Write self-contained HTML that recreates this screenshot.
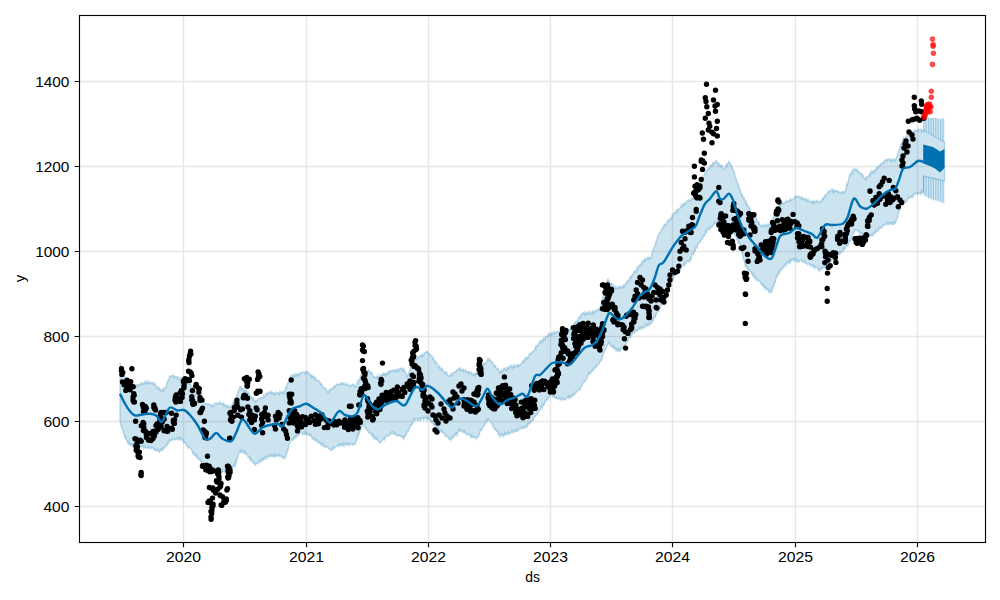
<!DOCTYPE html><html><head><meta charset="utf-8"><style>html,body{margin:0;padding:0;background:#fff;width:1000px;height:600px;overflow:hidden}svg{display:block}text{font-family:"Liberation Sans",sans-serif;fill:#000}</style></head><body><svg width="1000" height="600" viewBox="0 0 1000 600"><rect x="0" y="0" width="1000" height="600" fill="#fff"/><defs><clipPath id="ax"><rect x="79.5" y="15.5" width="906.0" height="527.0"/></clipPath></defs><path d="M120.0,363.7 120.5,364.5 121.0,367.3 121.5,366.8 122.0,369.5 122.5,370.3 123.0,370.7 123.5,373.7 124.0,373.9 124.5,376.8 125.0,377.4 125.5,379.1 126.0,381.8 126.5,383.4 127.0,381.6 127.5,382.3 128.0,383.9 128.5,385.2 129.0,384.5 129.5,384.3 130.0,386.4 130.5,383.8 131.0,386.3 131.5,384.8 132.0,384.5 132.5,384.5 133.0,385.2 133.5,386.9 134.0,385.1 134.5,386.4 135.0,386.8 135.5,386.1 136.0,386.7 136.5,385.0 137.0,384.8 137.5,384.9 138.0,386.1 138.5,385.1 139.0,384.5 139.5,385.1 140.0,384.4 140.5,383.7 141.0,384.9 141.5,384.4 142.0,382.7 142.5,383.5 143.0,383.1 143.5,384.1 144.0,383.6 144.5,382.3 145.0,384.3 145.5,381.7 146.0,382.6 146.5,383.6 147.0,381.7 147.5,382.7 148.0,381.3 148.5,383.2 149.0,383.4 149.5,382.8 150.0,383.7 150.5,382.0 151.0,383.1 151.5,382.8 152.0,382.7 152.5,382.3 153.0,383.6 153.5,384.5 154.0,383.6 154.5,384.7 155.0,383.5 155.5,385.9 156.0,386.3 156.5,387.9 157.0,387.9 157.5,386.8 158.0,387.7 158.5,389.1 159.0,387.7 159.5,389.5 160.0,389.2 160.5,389.6 161.0,390.0 161.5,392.0 162.0,389.7 162.5,389.5 163.0,389.5 163.5,390.5 164.0,387.7 164.5,388.3 165.0,388.1 165.5,387.9 166.0,386.5 166.5,385.4 167.0,382.5 167.5,381.7 168.0,380.3 168.5,380.6 169.0,379.6 169.5,376.0 170.0,375.8 170.5,375.8 171.0,375.8 171.5,376.4 172.0,376.7 172.5,375.6 173.0,374.8 173.5,375.9 174.0,375.7 174.5,376.2 175.0,377.6 175.5,377.0 176.0,376.7 176.5,377.2 177.0,377.6 177.5,375.9 178.0,378.7 178.5,378.6 179.0,379.1 179.5,379.0 180.0,378.0 180.5,378.3 181.0,377.6 181.5,379.4 182.0,378.0 182.5,378.3 183.0,379.0 183.5,379.1 184.0,379.9 184.5,379.4 185.0,379.5 185.5,380.4 186.0,380.7 186.5,381.9 187.0,381.3 187.5,384.3 188.0,383.9 188.5,383.0 189.0,383.7 189.5,384.4 190.0,384.9 190.5,384.6 191.0,387.2 191.5,388.1 192.0,387.0 192.5,387.5 193.0,386.9 193.5,387.6 194.0,388.9 194.5,389.3 195.0,391.6 195.5,390.2 196.0,390.4 196.5,393.9 197.0,393.2 197.5,392.7 198.0,394.5 198.5,393.6 199.0,395.7 199.5,397.7 200.0,398.0 200.5,398.1 201.0,397.4 201.5,398.4 202.0,398.4 202.5,400.8 203.0,400.5 203.5,401.6 204.0,400.7 204.5,400.8 205.0,402.9 205.5,403.9 206.0,403.9 206.5,404.1 207.0,404.6 207.5,404.7 208.0,403.6 208.5,404.9 209.0,404.8 209.5,404.2 210.0,404.6 210.5,405.2 211.0,404.9 211.5,406.1 212.0,406.7 212.5,405.0 213.0,406.3 213.5,406.2 214.0,406.0 214.5,404.0 215.0,403.4 215.5,403.3 216.0,403.0 216.5,402.8 217.0,403.9 217.5,404.6 218.0,404.2 218.5,403.0 219.0,403.3 219.5,403.6 220.0,401.3 220.5,403.2 221.0,404.2 221.5,404.1 222.0,404.3 222.5,403.7 223.0,403.0 223.5,405.1 224.0,404.0 224.5,405.7 225.0,406.4 225.5,404.9 226.0,405.2 226.5,407.1 227.0,406.7 227.5,405.3 228.0,405.4 228.5,405.7 229.0,408.2 229.5,408.2 230.0,406.4 230.5,407.7 231.0,407.4 231.5,405.7 232.0,404.1 232.5,403.9 233.0,401.9 233.5,400.8 234.0,402.9 234.5,401.2 235.0,400.1 235.5,400.1 236.0,397.3 236.5,397.4 237.0,396.0 237.5,392.9 238.0,391.8 238.5,390.6 239.0,389.2 239.5,389.0 240.0,386.8 240.5,387.5 241.0,386.9 241.5,389.5 242.0,388.1 242.5,388.6 243.0,389.3 243.5,390.5 244.0,389.3 244.5,391.0 245.0,390.0 245.5,390.6 246.0,391.2 246.5,390.2 247.0,392.0 247.5,391.8 248.0,391.8 248.5,394.7 249.0,393.4 249.5,394.9 250.0,396.2 250.5,396.2 251.0,396.1 251.5,397.2 252.0,397.9 252.5,399.1 253.0,397.6 253.5,399.5 254.0,399.1 254.5,399.8 255.0,401.8 255.5,400.7 256.0,400.6 256.5,400.9 257.0,401.0 257.5,399.3 258.0,399.5 258.5,398.9 259.0,398.6 259.5,398.9 260.0,397.9 260.5,397.8 261.0,397.4 261.5,398.5 262.0,397.5 262.5,397.8 263.0,397.7 263.5,395.4 264.0,396.0 264.5,396.9 265.0,396.3 265.5,393.9 266.0,393.6 266.5,394.3 267.0,392.9 267.5,393.1 268.0,392.3 268.5,393.8 269.0,393.9 269.5,394.0 270.0,391.5 270.5,393.2 271.0,393.1 271.5,391.6 272.0,393.9 272.5,394.2 273.0,392.0 273.5,394.3 274.0,392.7 274.5,393.0 275.0,394.6 275.5,394.2 276.0,392.2 276.5,393.1 277.0,393.4 277.5,393.0 278.0,392.6 278.5,393.0 279.0,394.3 279.5,392.2 280.0,393.9 280.5,393.3 281.0,391.8 281.5,392.4 282.0,393.0 282.5,392.4 283.0,390.8 283.5,393.3 284.0,392.4 284.5,392.7 285.0,389.8 285.5,388.9 286.0,386.9 286.5,387.8 287.0,384.9 287.5,383.1 288.0,382.7 288.5,382.8 289.0,381.2 289.5,378.1 290.0,376.4 290.5,378.5 291.0,377.2 291.5,377.4 292.0,375.3 292.5,374.9 293.0,376.6 293.5,375.5 294.0,374.2 294.5,376.6 295.0,375.4 295.5,375.8 296.0,373.5 296.5,375.7 297.0,373.3 297.5,375.5 298.0,374.2 298.5,373.7 299.0,374.3 299.5,375.3 300.0,373.2 300.5,372.7 301.0,373.7 301.5,372.8 302.0,372.3 302.5,372.3 303.0,371.9 303.5,372.2 304.0,372.4 304.5,372.3 305.0,373.6 305.5,372.0 306.0,372.6 306.5,371.7 307.0,372.5 307.5,371.8 308.0,372.8 308.5,372.3 309.0,374.8 309.5,374.5 310.0,373.7 310.5,374.9 311.0,376.5 311.5,374.3 312.0,376.7 312.5,375.9 313.0,376.3 313.5,377.6 314.0,376.6 314.5,377.2 315.0,378.1 315.5,379.5 316.0,378.2 316.5,380.2 317.0,380.4 317.5,380.7 318.0,380.6 318.5,381.0 319.0,380.7 319.5,381.5 320.0,381.9 320.5,384.5 321.0,383.6 321.5,383.9 322.0,384.2 322.5,387.0 323.0,387.7 323.5,387.6 324.0,387.0 324.5,387.4 325.0,388.1 325.5,389.2 326.0,388.8 326.5,390.2 327.0,390.2 327.5,392.8 328.0,393.4 328.5,391.8 329.0,390.5 329.5,392.3 330.0,390.0 330.5,389.8 331.0,388.4 331.5,389.1 332.0,389.1 332.5,388.8 333.0,387.5 333.5,388.1 334.0,386.2 334.5,386.6 335.0,385.8 335.5,386.3 336.0,384.8 336.5,384.4 337.0,384.8 337.5,384.2 338.0,384.9 338.5,384.3 339.0,384.6 339.5,383.9 340.0,383.6 340.5,384.2 341.0,382.9 341.5,382.8 342.0,384.9 342.5,382.4 343.0,384.3 343.5,384.1 344.0,382.4 344.5,384.9 345.0,385.2 345.5,384.5 346.0,384.9 346.5,385.2 347.0,383.3 347.5,384.6 348.0,384.6 348.5,385.7 349.0,385.7 349.5,385.9 350.0,385.3 350.5,386.3 351.0,385.7 351.5,385.8 352.0,384.5 352.5,384.0 353.0,384.4 353.5,385.2 354.0,384.5 354.5,386.8 355.0,386.0 355.5,386.3 356.0,386.4 356.5,385.5 357.0,384.0 357.5,381.5 358.0,382.9 358.5,381.7 359.0,380.0 359.5,379.1 360.0,378.5 360.5,375.7 361.0,376.7 361.5,374.4 362.0,373.0 362.5,372.7 363.0,373.2 363.5,370.7 364.0,371.5 364.5,371.3 365.0,369.0 365.5,368.9 366.0,369.5 366.5,370.5 367.0,371.0 367.5,370.9 368.0,371.2 368.5,369.8 369.0,370.3 369.5,371.0 370.0,372.7 370.5,372.0 371.0,373.4 371.5,372.3 372.0,373.1 372.5,374.3 373.0,376.1 373.5,376.8 374.0,377.3 374.5,376.8 375.0,378.0 375.5,377.7 376.0,377.5 376.5,376.3 377.0,378.4 377.5,376.1 378.0,378.2 378.5,377.9 379.0,375.0 379.5,376.1 380.0,377.0 380.5,377.2 381.0,375.4 381.5,374.7 382.0,374.3 382.5,376.3 383.0,373.9 383.5,374.8 384.0,373.3 384.5,374.3 385.0,375.4 385.5,372.7 386.0,374.6 386.5,373.4 387.0,374.4 387.5,373.6 388.0,372.0 388.5,373.8 389.0,372.4 389.5,370.8 390.0,370.5 390.5,371.8 391.0,371.6 391.5,371.0 392.0,370.3 392.5,370.8 393.0,370.5 393.5,372.0 394.0,369.3 394.5,371.4 395.0,371.5 395.5,369.2 396.0,371.5 396.5,370.7 397.0,371.1 397.5,369.1 398.0,369.2 398.5,369.1 399.0,370.8 399.5,369.4 400.0,368.6 400.5,368.9 401.0,368.6 401.5,368.0 402.0,368.3 402.5,370.6 403.0,369.1 403.5,371.2 404.0,369.2 404.5,370.3 405.0,372.0 405.5,372.1 406.0,373.6 406.5,376.4 407.0,377.2 407.5,375.8 408.0,374.1 408.5,373.8 409.0,372.8 409.5,370.4 410.0,369.8 410.5,366.6 411.0,367.6 411.5,365.6 412.0,365.3 412.5,363.9 413.0,361.6 413.5,359.8 414.0,361.3 414.5,358.6 415.0,359.3 415.5,358.7 416.0,358.3 416.5,359.3 417.0,359.7 417.5,357.3 418.0,358.2 418.5,356.8 419.0,357.3 419.5,356.5 420.0,355.6 420.5,355.3 421.0,355.1 421.5,356.9 422.0,355.4 422.5,354.3 423.0,356.1 423.5,356.1 424.0,354.1 424.5,352.9 425.0,352.8 425.5,352.2 426.0,352.7 426.5,351.6 427.0,351.8 427.5,351.6 428.0,352.2 428.5,353.8 429.0,354.1 429.5,353.7 430.0,354.4 430.5,355.4 431.0,355.6 431.5,356.2 432.0,356.0 432.5,357.3 433.0,360.1 433.5,358.2 434.0,360.0 434.5,361.1 435.0,362.4 435.5,361.1 436.0,362.0 436.5,362.6 437.0,363.7 437.5,364.5 438.0,366.7 438.5,367.0 439.0,367.8 439.5,365.9 440.0,366.6 440.5,369.0 441.0,370.0 441.5,369.1 442.0,369.9 442.5,368.5 443.0,370.1 443.5,372.1 444.0,372.2 444.5,372.7 445.0,373.4 445.5,371.6 446.0,371.6 446.5,372.2 447.0,373.7 447.5,374.5 448.0,375.7 448.5,375.5 449.0,375.6 449.5,376.4 450.0,375.9 450.5,375.8 451.0,373.9 451.5,375.8 452.0,373.7 452.5,375.4 453.0,374.3 453.5,372.9 454.0,372.0 454.5,372.0 455.0,372.8 455.5,372.6 456.0,370.5 456.5,370.0 457.0,371.0 457.5,370.8 458.0,369.9 458.5,369.0 459.0,369.8 459.5,367.6 460.0,368.2 460.5,368.8 461.0,370.5 461.5,369.8 462.0,370.7 462.5,369.7 463.0,369.2 463.5,369.4 464.0,371.8 464.5,371.2 465.0,370.3 465.5,369.6 466.0,371.2 466.5,372.0 467.0,371.4 467.5,371.1 468.0,372.6 468.5,373.6 469.0,371.7 469.5,371.3 470.0,372.4 470.5,372.9 471.0,373.9 471.5,372.6 472.0,374.6 472.5,374.7 473.0,374.2 473.5,373.5 474.0,376.0 474.5,374.2 475.0,376.0 475.5,373.6 476.0,373.0 476.5,374.0 477.0,372.0 477.5,373.4 478.0,371.4 478.5,369.9 479.0,369.4 479.5,369.4 480.0,369.5 480.5,369.7 481.0,366.7 481.5,366.9 482.0,365.7 482.5,367.4 483.0,364.3 483.5,363.5 484.0,362.9 484.5,363.3 485.0,364.2 485.5,363.6 486.0,362.5 486.5,362.7 487.0,361.9 487.5,359.5 488.0,358.5 488.5,360.1 489.0,360.1 489.5,358.5 490.0,361.0 490.5,360.7 491.0,361.3 491.5,361.7 492.0,361.8 492.5,361.9 493.0,363.3 493.5,364.1 494.0,366.5 494.5,364.6 495.0,367.7 495.5,366.0 496.0,367.0 496.5,368.9 497.0,369.5 497.5,368.9 498.0,368.4 498.5,370.2 499.0,370.5 499.5,372.7 500.0,371.1 500.5,371.3 501.0,372.7 501.5,369.8 502.0,370.7 502.5,371.7 503.0,371.3 503.5,368.9 504.0,368.6 504.5,368.4 505.0,370.8 505.5,368.5 506.0,369.7 506.5,369.9 507.0,368.0 507.5,367.6 508.0,369.4 508.5,368.1 509.0,366.8 509.5,367.9 510.0,366.4 510.5,366.2 511.0,365.3 511.5,367.4 512.0,367.8 512.5,366.8 513.0,367.6 513.5,364.8 514.0,365.3 514.5,365.9 515.0,367.2 515.5,367.1 516.0,365.3 516.5,364.8 517.0,365.2 517.5,365.3 518.0,366.4 518.5,364.1 519.0,365.8 519.5,365.5 520.0,365.7 520.5,365.0 521.0,364.0 521.5,362.7 522.0,362.2 522.5,361.8 523.0,362.5 523.5,359.9 524.0,359.8 524.5,361.0 525.0,358.9 525.5,357.9 526.0,357.3 526.5,358.4 527.0,357.2 527.5,358.6 528.0,357.9 528.5,357.7 529.0,355.0 529.5,354.0 530.0,353.5 530.5,354.2 531.0,354.3 531.5,353.0 532.0,351.8 532.5,351.7 533.0,351.6 533.5,351.1 534.0,350.7 534.5,350.3 535.0,349.1 535.5,346.8 536.0,348.3 536.5,346.0 537.0,346.2 537.5,344.9 538.0,345.4 538.5,343.1 539.0,342.6 539.5,341.9 540.0,341.0 540.5,342.7 541.0,341.4 541.5,340.2 542.0,340.0 542.5,341.4 543.0,339.5 543.5,338.3 544.0,339.6 544.5,338.7 545.0,339.3 545.5,336.3 546.0,337.0 546.5,337.6 547.0,337.2 547.5,337.1 548.0,334.0 548.5,334.4 549.0,333.4 549.5,333.2 550.0,335.2 550.5,333.9 551.0,334.9 551.5,333.1 552.0,334.5 552.5,333.2 553.0,332.5 553.5,334.0 554.0,334.4 554.5,331.8 555.0,333.2 555.5,333.1 556.0,331.9 556.5,332.2 557.0,331.4 557.5,331.5 558.0,331.6 558.5,332.6 559.0,332.6 559.5,331.2 560.0,330.5 560.5,331.4 561.0,332.3 561.5,330.8 562.0,331.0 562.5,330.6 563.0,332.3 563.5,331.4 564.0,329.9 564.5,329.9 565.0,330.7 565.5,331.1 566.0,331.2 566.5,329.5 567.0,329.6 567.5,331.1 568.0,330.1 568.5,329.6 569.0,329.6 569.5,331.5 570.0,329.4 570.5,329.6 571.0,328.3 571.5,327.8 572.0,328.5 572.5,328.3 573.0,325.7 573.5,324.6 574.0,325.5 574.5,323.3 575.0,322.1 575.5,324.1 576.0,322.0 576.5,322.6 577.0,320.7 577.5,321.5 578.0,319.6 578.5,318.0 579.0,316.9 579.5,317.9 580.0,317.5 580.5,317.7 581.0,314.6 581.5,315.5 582.0,314.1 582.5,313.9 583.0,312.5 583.5,312.9 584.0,313.5 584.5,314.7 585.0,312.2 585.5,313.3 586.0,314.1 586.5,314.6 587.0,312.2 587.5,311.9 588.0,314.3 588.5,314.4 589.0,312.8 589.5,311.5 590.0,314.1 590.5,312.4 591.0,313.9 591.5,313.0 592.0,313.5 592.5,311.5 593.0,313.1 593.5,311.2 594.0,311.5 594.5,312.7 595.0,312.4 595.5,310.2 596.0,310.1 596.5,310.4 597.0,310.6 597.5,309.9 598.0,308.9 598.5,309.1 599.0,310.3 599.5,310.6 600.0,306.8 600.5,306.5 601.0,305.2 601.5,301.2 602.0,301.7 602.5,297.6 603.0,297.2 603.5,295.2 604.0,293.5 604.5,290.7 605.0,289.2 605.5,287.8 606.0,285.4 606.5,284.2 607.0,281.7 607.5,279.8 608.0,279.1 608.5,281.4 609.0,281.6 609.5,281.3 610.0,283.4 610.5,284.0 611.0,283.6 611.5,283.3 612.0,284.7 612.5,284.1 613.0,284.7 613.5,286.1 614.0,285.7 614.5,287.2 615.0,288.0 615.5,287.1 616.0,289.4 616.5,287.5 617.0,289.3 617.5,289.2 618.0,288.1 618.5,286.6 619.0,287.7 619.5,287.1 620.0,288.6 620.5,285.9 621.0,287.8 621.5,288.0 622.0,287.0 622.5,287.1 623.0,285.0 623.5,287.1 624.0,285.4 624.5,286.6 625.0,286.2 625.5,283.3 626.0,284.5 626.5,284.3 627.0,281.0 627.5,281.2 628.0,281.8 628.5,279.3 629.0,280.9 629.5,278.3 630.0,279.3 630.5,276.6 631.0,277.0 631.5,277.6 632.0,274.8 632.5,274.3 633.0,274.4 633.5,273.1 634.0,271.6 634.5,271.4 635.0,270.7 635.5,272.3 636.0,270.9 636.5,270.9 637.0,268.0 637.5,269.2 638.0,266.5 638.5,267.1 639.0,266.7 639.5,265.2 640.0,266.1 640.5,264.5 641.0,263.9 641.5,264.1 642.0,261.1 642.5,263.1 643.0,261.4 643.5,260.0 644.0,260.8 644.5,259.0 645.0,261.0 645.5,259.6 646.0,258.8 646.5,259.8 647.0,258.7 647.5,257.7 648.0,259.3 648.5,257.0 649.0,259.1 649.5,257.3 650.0,258.3 650.5,259.1 651.0,257.8 651.5,256.4 652.0,253.8 652.5,251.3 653.0,249.9 653.5,248.6 654.0,248.5 654.5,246.4 655.0,245.0 655.5,244.9 656.0,241.2 656.5,240.2 657.0,240.1 657.5,236.9 658.0,235.5 658.5,235.2 659.0,233.4 659.5,233.2 660.0,231.9 660.5,232.0 661.0,231.1 661.5,229.0 662.0,229.4 662.5,228.3 663.0,226.7 663.5,228.5 664.0,225.8 664.5,224.9 665.0,224.1 665.5,225.1 666.0,225.2 666.5,224.3 667.0,222.5 667.5,221.5 668.0,220.1 668.5,221.4 669.0,220.5 669.5,219.3 670.0,219.5 670.5,218.3 671.0,219.2 671.5,217.9 672.0,215.9 672.5,217.2 673.0,214.1 673.5,215.0 674.0,214.1 674.5,213.0 675.0,211.9 675.5,213.5 676.0,210.7 676.5,211.8 677.0,212.4 677.5,209.4 678.0,209.0 678.5,209.7 679.0,208.9 679.5,208.7 680.0,208.7 680.5,206.2 681.0,206.1 681.5,205.5 682.0,204.2 682.5,206.2 683.0,205.5 683.5,205.0 684.0,202.5 684.5,204.7 685.0,204.1 685.5,202.9 686.0,203.4 686.5,202.2 687.0,201.2 687.5,200.5 688.0,200.5 688.5,199.6 689.0,200.2 689.5,201.1 690.0,200.6 690.5,200.7 691.0,200.0 691.5,198.3 692.0,198.8 692.5,198.1 693.0,198.9 693.5,197.7 694.0,196.2 694.5,196.3 695.0,196.1 695.5,192.8 696.0,193.6 696.5,189.9 697.0,189.6 697.5,188.4 698.0,188.8 698.5,188.3 699.0,186.6 699.5,184.2 700.0,184.8 700.5,182.0 701.0,180.6 701.5,181.5 702.0,179.6 702.5,178.6 703.0,177.4 703.5,177.3 704.0,174.6 704.5,174.6 705.0,173.1 705.5,173.0 706.0,171.3 706.5,171.6 707.0,170.6 707.5,169.3 708.0,168.5 708.5,169.2 709.0,167.1 709.5,169.0 710.0,166.2 710.5,165.3 711.0,165.0 711.5,167.0 712.0,164.7 712.5,163.6 713.0,162.7 713.5,162.2 714.0,163.7 714.5,163.0 715.0,162.6 715.5,162.2 716.0,159.7 716.5,161.8 717.0,161.6 717.5,163.5 718.0,164.0 718.5,164.7 719.0,162.7 719.5,165.6 720.0,166.2 720.5,166.8 721.0,164.8 721.5,165.6 722.0,165.8 722.5,166.1 723.0,169.0 723.5,169.4 724.0,169.4 724.5,169.3 725.0,168.1 725.5,166.4 726.0,165.2 726.5,164.5 727.0,165.9 727.5,163.6 728.0,163.3 728.5,162.9 729.0,161.1 729.5,162.5 730.0,163.3 730.5,165.3 731.0,165.0 731.5,165.5 732.0,168.2 732.5,167.5 733.0,170.1 733.5,171.0 734.0,170.8 734.5,173.5 735.0,175.1 735.5,177.7 736.0,178.0 736.5,180.6 737.0,181.7 737.5,182.3 738.0,185.8 738.5,185.1 739.0,188.8 739.5,188.4 740.0,189.5 740.5,191.1 741.0,193.7 741.5,195.3 742.0,193.3 742.5,195.7 743.0,196.7 743.5,198.5 744.0,197.7 744.5,199.5 745.0,200.0 745.5,202.4 746.0,201.7 746.5,204.7 747.0,203.7 747.5,204.4 748.0,206.8 748.5,207.1 749.0,206.9 749.5,209.5 750.0,208.7 750.5,211.6 751.0,212.0 751.5,213.0 752.0,213.3 752.5,213.2 753.0,214.1 753.5,214.8 754.0,217.0 754.5,215.3 755.0,218.4 755.5,216.6 756.0,217.8 756.5,218.7 757.0,221.4 757.5,220.9 758.0,221.3 758.5,223.5 759.0,222.3 759.5,223.7 760.0,224.6 760.5,226.0 761.0,226.8 761.5,226.4 762.0,225.4 762.5,225.3 763.0,224.7 763.5,226.8 764.0,226.2 764.5,226.3 765.0,224.6 765.5,225.3 766.0,226.3 766.5,225.6 767.0,224.2 767.5,225.2 768.0,226.4 768.5,224.4 769.0,224.2 769.5,224.5 770.0,225.6 770.5,225.0 771.0,222.0 771.5,221.0 772.0,220.2 772.5,219.5 773.0,219.1 773.5,217.0 774.0,216.5 774.5,215.1 775.0,216.4 775.5,214.7 776.0,211.8 776.5,213.4 777.0,209.8 777.5,209.7 778.0,210.5 778.5,208.9 779.0,207.7 779.5,205.8 780.0,204.1 780.5,205.2 781.0,203.3 781.5,203.4 782.0,203.7 782.5,202.4 783.0,203.2 783.5,204.1 784.0,203.6 784.5,202.8 785.0,202.9 785.5,202.1 786.0,200.9 786.5,202.1 787.0,201.2 787.5,202.0 788.0,202.2 788.5,200.5 789.0,200.7 789.5,201.0 790.0,199.8 790.5,198.9 791.0,200.2 791.5,200.4 792.0,199.8 792.5,199.4 793.0,199.6 793.5,198.8 794.0,198.4 794.5,197.6 795.0,196.9 795.5,197.6 796.0,195.8 796.5,196.5 797.0,197.3 797.5,196.9 798.0,196.8 798.5,195.9 799.0,196.6 799.5,196.9 800.0,197.6 800.5,197.2 801.0,198.2 801.5,199.1 802.0,197.1 802.5,198.7 803.0,199.3 803.5,198.3 804.0,198.8 804.5,200.5 805.0,197.9 805.5,199.6 806.0,198.6 806.5,200.7 807.0,201.4 807.5,200.3 808.0,199.3 808.5,200.9 809.0,201.0 809.5,201.7 810.0,201.3 810.5,201.7 811.0,202.4 811.5,201.5 812.0,201.2 812.5,202.9 813.0,200.8 813.5,202.2 814.0,201.4 814.5,202.6 815.0,200.7 815.5,203.4 816.0,201.6 816.5,200.7 817.0,201.4 817.5,201.9 818.0,200.8 818.5,202.1 819.0,202.1 819.5,203.0 820.0,202.1 820.5,201.2 821.0,200.4 821.5,201.3 822.0,201.3 822.5,199.5 823.0,197.9 823.5,199.0 824.0,197.2 824.5,196.0 825.0,195.1 825.5,196.5 826.0,195.9 826.5,194.8 827.0,193.7 827.5,193.3 828.0,191.7 828.5,193.3 829.0,190.8 829.5,191.0 830.0,191.0 830.5,191.1 831.0,190.2 831.5,189.8 832.0,190.6 832.5,189.5 833.0,191.8 833.5,190.4 834.0,192.1 834.5,190.4 835.0,190.9 835.5,190.6 836.0,191.3 836.5,190.7 837.0,190.3 837.5,192.5 838.0,191.3 838.5,191.4 839.0,191.7 839.5,192.3 840.0,192.3 840.5,192.9 841.0,192.9 841.5,191.9 842.0,193.6 842.5,193.3 843.0,190.9 843.5,193.1 844.0,193.3 844.5,192.9 845.0,190.9 845.5,191.3 846.0,189.0 846.5,185.4 847.0,183.7 847.5,184.9 848.0,182.3 848.5,179.4 849.0,177.2 849.5,175.6 850.0,174.2 850.5,175.1 851.0,173.1 851.5,171.9 852.0,173.4 852.5,172.4 853.0,169.8 853.5,171.3 854.0,169.7 854.5,169.5 855.0,168.5 855.5,169.7 856.0,169.9 856.5,170.5 857.0,169.1 857.5,171.1 858.0,171.1 858.5,172.2 859.0,171.8 859.5,173.6 860.0,173.2 860.5,172.9 861.0,173.4 861.5,173.7 862.0,175.4 862.5,174.7 863.0,176.5 863.5,176.1 864.0,177.8 864.5,178.4 865.0,179.1 865.5,179.6 866.0,176.5 866.5,178.5 867.0,176.9 867.5,176.7 868.0,176.5 868.5,176.5 869.0,174.6 869.5,174.3 870.0,175.4 870.5,172.3 871.0,173.6 871.5,173.2 872.0,171.0 872.5,172.3 873.0,172.1 873.5,172.5 874.0,170.3 874.5,171.8 875.0,170.0 875.5,169.5 876.0,170.2 876.5,167.1 877.0,168.7 877.5,167.9 878.0,166.5 878.5,167.6 879.0,165.6 879.5,165.4 880.0,165.1 880.5,165.4 881.0,163.3 881.5,163.5 882.0,163.1 882.5,163.0 883.0,163.4 883.5,161.4 884.0,162.6 884.5,160.9 885.0,160.7 885.5,159.6 886.0,159.9 886.5,160.9 887.0,159.5 887.5,160.0 888.0,158.7 888.5,158.8 889.0,158.9 889.5,159.9 890.0,160.2 890.5,160.7 891.0,158.6 891.5,160.8 892.0,161.4 892.5,160.5 893.0,159.1 893.5,160.0 894.0,159.3 894.5,159.9 895.0,162.3 895.5,159.9 896.0,158.7 896.5,157.7 897.0,156.6 897.5,154.3 898.0,153.0 898.5,151.6 899.0,150.4 899.5,148.7 900.0,147.5 900.5,145.0 901.0,145.3 901.5,143.5 902.0,143.3 902.5,140.2 903.0,139.3 903.5,137.7 904.0,138.8 904.5,138.9 905.0,137.8 905.5,136.6 906.0,137.6 906.5,137.2 907.0,136.2 907.5,134.9 908.0,134.7 908.5,134.8 909.0,134.1 909.5,134.1 910.0,134.4 910.5,135.0 911.0,132.1 911.5,133.3 912.0,131.5 912.5,131.4 913.0,133.2 913.5,132.2 914.0,133.0 914.5,131.3 915.0,129.7 915.5,130.5 916.0,130.8 916.5,131.6 917.0,131.4 917.5,130.0 918.0,129.9 918.5,129.0 919.0,130.7 919.5,129.5 920.0,129.4 920.5,129.1 921.0,129.1 921.5,131.2 922.0,129.6 922.5,132.2 923.0,129.7 923.5,132.1 923.5,130.0 930.0,134.0 937.0,138.0 944.5,142.0 L944.5,181.0 932.0,178.0 923.5,176.0 923.5,190.6 923.0,192.5 922.5,192.0 922.0,191.0 921.5,193.6 921.0,192.4 920.5,194.0 920.0,192.7 919.5,193.2 919.0,194.0 918.5,193.8 918.0,192.7 917.5,194.3 917.0,192.9 916.5,193.1 916.0,194.0 915.5,193.6 915.0,194.1 914.5,193.8 914.0,193.4 913.5,195.3 913.0,196.8 912.5,195.0 912.0,197.2 911.5,196.2 911.0,197.3 910.5,197.3 910.0,197.6 909.5,197.7 909.0,198.6 908.5,197.5 908.0,198.4 907.5,198.9 907.0,201.1 906.5,201.4 906.0,202.1 905.5,200.9 905.0,200.7 904.5,202.3 904.0,203.0 903.5,203.7 903.0,205.1 902.5,203.8 902.0,204.4 901.5,204.8 901.0,205.3 900.5,208.9 900.0,207.5 899.5,210.5 899.0,211.4 898.5,212.3 898.0,216.0 897.5,217.3 897.0,219.3 896.5,219.6 896.0,220.5 895.5,222.8 895.0,222.4 894.5,223.7 894.0,224.4 893.5,224.3 893.0,222.4 892.5,223.9 892.0,224.5 891.5,222.5 891.0,222.6 890.5,224.7 890.0,222.5 889.5,222.9 889.0,222.6 888.5,224.6 888.0,224.6 887.5,223.9 887.0,224.3 886.5,222.4 886.0,223.5 885.5,224.5 885.0,224.3 884.5,225.2 884.0,224.7 883.5,225.0 883.0,225.3 882.5,227.1 882.0,226.3 881.5,226.6 881.0,228.3 880.5,227.6 880.0,228.0 879.5,228.8 879.0,227.6 878.5,230.2 878.0,231.1 877.5,230.3 877.0,230.8 876.5,230.8 876.0,232.4 875.5,230.8 875.0,232.0 874.5,233.3 874.0,232.8 873.5,234.1 873.0,235.2 872.5,233.2 872.0,235.8 871.5,235.1 871.0,234.8 870.5,235.1 870.0,236.8 869.5,236.6 869.0,236.2 868.5,236.2 868.0,237.8 867.5,237.1 867.0,237.0 866.5,235.5 866.0,236.2 865.5,236.7 865.0,236.9 864.5,235.5 864.0,234.5 863.5,236.2 863.0,235.2 862.5,233.3 862.0,235.2 861.5,233.1 861.0,233.1 860.5,232.6 860.0,233.7 859.5,231.7 859.0,231.1 858.5,232.3 858.0,230.9 857.5,230.1 857.0,230.8 856.5,230.4 856.0,230.2 855.5,229.5 855.0,230.1 854.5,230.7 854.0,232.7 853.5,232.1 853.0,235.0 852.5,236.2 852.0,236.3 851.5,237.3 851.0,239.1 850.5,241.1 850.0,240.4 849.5,240.5 849.0,242.7 848.5,243.9 848.0,245.8 847.5,245.6 847.0,245.3 846.5,246.2 846.0,246.3 845.5,246.7 845.0,249.3 844.5,249.8 844.0,248.9 843.5,248.3 843.0,251.2 842.5,251.8 842.0,252.0 841.5,251.9 841.0,251.9 840.5,253.4 840.0,251.9 839.5,252.6 839.0,254.8 838.5,254.4 838.0,254.8 837.5,255.3 837.0,256.9 836.5,255.0 836.0,255.7 835.5,257.0 835.0,257.6 834.5,258.6 834.0,258.3 833.5,260.0 833.0,258.5 832.5,259.9 832.0,259.2 831.5,260.5 831.0,261.2 830.5,260.7 830.0,262.2 829.5,262.4 829.0,262.6 828.5,262.6 828.0,264.0 827.5,263.4 827.0,264.9 826.5,265.0 826.0,264.2 825.5,266.9 825.0,266.1 824.5,266.3 824.0,267.7 823.5,267.8 823.0,266.0 822.5,269.3 822.0,267.8 821.5,268.9 821.0,269.6 820.5,269.1 820.0,270.6 819.5,268.4 819.0,270.7 818.5,270.0 818.0,269.9 817.5,267.5 817.0,267.4 816.5,267.3 816.0,267.4 815.5,267.8 815.0,266.5 814.5,268.2 814.0,267.0 813.5,264.9 813.0,267.6 812.5,264.8 812.0,265.3 811.5,264.9 811.0,264.7 810.5,266.1 810.0,264.2 809.5,263.6 809.0,263.6 808.5,264.3 808.0,264.6 807.5,264.8 807.0,263.8 806.5,263.2 806.0,263.0 805.5,263.2 805.0,263.1 804.5,260.9 804.0,261.8 803.5,262.3 803.0,261.7 802.5,261.8 802.0,260.3 801.5,260.2 801.0,260.6 800.5,260.2 800.0,260.3 799.5,261.6 799.0,262.0 798.5,262.2 798.0,259.9 797.5,260.2 797.0,261.9 796.5,260.5 796.0,260.0 795.5,259.2 795.0,260.3 794.5,261.0 794.0,259.1 793.5,260.7 793.0,259.1 792.5,259.8 792.0,259.3 791.5,260.6 791.0,259.9 790.5,262.5 790.0,261.2 789.5,263.5 789.0,261.0 788.5,261.6 788.0,262.9 787.5,262.6 787.0,263.8 786.5,262.7 786.0,265.0 785.5,265.7 785.0,264.3 784.5,264.1 784.0,267.3 783.5,267.5 783.0,267.7 782.5,269.1 782.0,268.0 781.5,268.0 781.0,270.5 780.5,269.7 780.0,270.2 779.5,272.8 779.0,271.8 778.5,274.8 778.0,272.8 777.5,276.4 777.0,275.2 776.5,276.3 776.0,278.4 775.5,281.9 775.0,282.8 774.5,282.1 774.0,285.5 773.5,286.6 773.0,286.7 772.5,289.6 772.0,288.9 771.5,292.3 771.0,292.7 770.5,291.9 770.0,292.0 769.5,291.8 769.0,289.8 768.5,291.6 768.0,290.0 767.5,289.1 767.0,288.5 766.5,289.7 766.0,289.1 765.5,287.2 765.0,288.6 764.5,288.1 764.0,285.5 763.5,286.2 763.0,284.6 762.5,286.5 762.0,283.9 761.5,284.4 761.0,284.3 760.5,282.1 760.0,281.7 759.5,281.8 759.0,280.8 758.5,280.3 758.0,279.7 757.5,280.4 757.0,280.8 756.5,280.3 756.0,278.2 755.5,278.2 755.0,276.2 754.5,278.0 754.0,276.0 753.5,276.1 753.0,273.7 752.5,275.1 752.0,272.6 751.5,274.3 751.0,272.0 750.5,271.8 750.0,272.2 749.5,270.2 749.0,270.4 748.5,269.4 748.0,270.2 747.5,267.4 747.0,268.3 746.5,265.5 746.0,265.2 745.5,266.9 745.0,265.7 744.5,262.0 744.0,259.9 743.5,258.6 743.0,258.3 742.5,254.0 742.0,253.2 741.5,251.0 741.0,247.7 740.5,245.9 740.0,243.6 739.5,242.8 739.0,243.8 738.5,241.2 738.0,242.5 737.5,239.6 737.0,239.8 736.5,238.5 736.0,236.9 735.5,234.5 735.0,233.9 734.5,235.3 734.0,233.1 733.5,231.3 733.0,230.9 732.5,231.4 732.0,229.8 731.5,227.4 731.0,227.8 730.5,226.8 730.0,225.6 729.5,224.2 729.0,225.5 728.5,224.2 728.0,224.9 727.5,225.0 727.0,224.6 726.5,224.6 726.0,224.4 725.5,224.0 725.0,225.0 724.5,222.8 724.0,224.7 723.5,222.7 723.0,222.7 722.5,222.4 722.0,223.0 721.5,224.1 721.0,223.7 720.5,221.9 720.0,224.6 719.5,223.3 719.0,224.3 718.5,221.4 718.0,222.7 717.5,222.0 717.0,222.9 716.5,222.5 716.0,222.2 715.5,223.5 715.0,222.2 714.5,223.7 714.0,223.1 713.5,224.4 713.0,225.8 712.5,225.4 712.0,226.6 711.5,227.3 711.0,226.5 710.5,226.6 710.0,229.1 709.5,228.7 709.0,229.8 708.5,229.3 708.0,228.6 707.5,228.9 707.0,230.3 706.5,232.7 706.0,233.3 705.5,231.9 705.0,234.3 704.5,236.2 704.0,236.3 703.5,235.5 703.0,237.6 702.5,239.1 702.0,239.1 701.5,238.7 701.0,240.1 700.5,240.4 700.0,242.6 699.5,242.1 699.0,242.6 698.5,243.0 698.0,244.5 697.5,245.3 697.0,248.0 696.5,247.6 696.0,247.1 695.5,250.3 695.0,249.8 694.5,251.8 694.0,251.6 693.5,254.5 693.0,254.2 692.5,254.0 692.0,254.7 691.5,257.3 691.0,259.3 690.5,258.5 690.0,261.3 689.5,260.6 689.0,261.5 688.5,260.7 688.0,261.1 687.5,260.8 687.0,261.5 686.5,262.3 686.0,263.5 685.5,263.6 685.0,264.0 684.5,265.7 684.0,263.5 683.5,264.3 683.0,265.4 682.5,265.5 682.0,265.9 681.5,266.7 681.0,267.4 680.5,269.5 680.0,268.0 679.5,268.6 679.0,268.3 678.5,269.8 678.0,270.8 677.5,270.7 677.0,272.1 676.5,272.2 676.0,273.4 675.5,274.0 675.0,273.2 674.5,275.5 674.0,277.4 673.5,278.4 673.0,279.3 672.5,278.9 672.0,280.3 671.5,282.3 671.0,283.5 670.5,285.1 670.0,286.5 669.5,287.4 669.0,287.9 668.5,287.5 668.0,291.6 667.5,292.6 667.0,292.5 666.5,293.8 666.0,294.0 665.5,295.9 665.0,296.4 664.5,297.6 664.0,299.9 663.5,299.5 663.0,300.4 662.5,304.4 662.0,304.0 661.5,303.8 661.0,305.9 660.5,307.8 660.0,307.3 659.5,309.1 659.0,310.0 658.5,311.4 658.0,311.8 657.5,312.3 657.0,312.5 656.5,312.9 656.0,315.4 655.5,317.1 655.0,315.8 654.5,317.0 654.0,317.0 653.5,319.4 653.0,321.0 652.5,320.3 652.0,322.5 651.5,321.2 651.0,323.0 650.5,323.3 650.0,324.4 649.5,325.1 649.0,323.4 648.5,323.2 648.0,325.8 647.5,326.2 647.0,325.4 646.5,324.6 646.0,325.4 645.5,324.6 645.0,327.7 644.5,327.5 644.0,327.4 643.5,327.2 643.0,328.5 642.5,326.5 642.0,327.5 641.5,328.7 641.0,327.7 640.5,328.8 640.0,327.9 639.5,330.0 639.0,328.2 638.5,328.2 638.0,328.7 637.5,330.3 637.0,331.4 636.5,330.4 636.0,329.9 635.5,330.4 635.0,331.9 634.5,332.9 634.0,330.7 633.5,333.2 633.0,333.1 632.5,332.5 632.0,334.7 631.5,333.7 631.0,336.4 630.5,337.8 630.0,337.9 629.5,337.5 629.0,337.4 628.5,340.2 628.0,340.5 627.5,341.4 627.0,340.9 626.5,342.8 626.0,341.7 625.5,344.5 625.0,345.4 624.5,345.0 624.0,346.6 623.5,346.6 623.0,348.1 622.5,347.4 622.0,348.9 621.5,348.4 621.0,348.8 620.5,350.7 620.0,349.6 619.5,351.4 619.0,350.6 618.5,349.7 618.0,351.5 617.5,349.2 617.0,350.7 616.5,349.7 616.0,350.5 615.5,347.8 615.0,348.1 614.5,349.0 614.0,346.5 613.5,348.0 613.0,348.4 612.5,345.4 612.0,346.9 611.5,346.4 611.0,345.6 610.5,346.1 610.0,344.5 609.5,343.0 609.0,343.6 608.5,342.3 608.0,344.0 607.5,345.0 607.0,344.9 606.5,347.5 606.0,347.6 605.5,349.7 605.0,350.7 604.5,351.1 604.0,353.1 603.5,353.0 603.0,354.6 602.5,357.6 602.0,356.5 601.5,359.0 601.0,361.2 600.5,360.2 600.0,361.1 599.5,362.9 599.0,363.9 598.5,364.3 598.0,364.5 597.5,365.5 597.0,365.3 596.5,366.7 596.0,365.5 595.5,367.1 595.0,368.3 594.5,367.3 594.0,367.3 593.5,370.4 593.0,369.3 592.5,369.7 592.0,371.2 591.5,371.2 591.0,373.1 590.5,372.5 590.0,372.2 589.5,373.6 589.0,374.3 588.5,373.0 588.0,376.0 587.5,376.3 587.0,378.2 586.5,379.1 586.0,379.7 585.5,380.7 585.0,381.8 584.5,381.1 584.0,381.6 583.5,381.8 583.0,383.0 582.5,384.3 582.0,385.9 581.5,386.4 581.0,386.9 580.5,387.2 580.0,389.9 579.5,390.1 579.0,390.1 578.5,389.9 578.0,390.0 577.5,390.7 577.0,391.5 576.5,392.4 576.0,391.7 575.5,392.6 575.0,394.1 574.5,394.8 574.0,395.2 573.5,393.2 573.0,395.8 572.5,394.7 572.0,395.9 571.5,395.2 571.0,395.8 570.5,398.6 570.0,397.1 569.5,396.4 569.0,398.1 568.5,396.5 568.0,398.1 567.5,397.4 567.0,397.1 566.5,398.3 566.0,398.4 565.5,399.9 565.0,399.9 564.5,399.5 564.0,400.0 563.5,399.6 563.0,399.5 562.5,398.1 562.0,398.8 561.5,400.4 561.0,398.8 560.5,399.2 560.0,398.4 559.5,398.1 559.0,399.4 558.5,397.3 558.0,397.5 557.5,398.6 557.0,398.7 556.5,398.3 556.0,396.3 555.5,398.4 555.0,398.0 554.5,397.1 554.0,395.6 553.5,395.7 553.0,397.2 552.5,396.8 552.0,394.3 551.5,394.5 551.0,394.6 550.5,394.4 550.0,395.5 549.5,397.1 549.0,396.9 548.5,397.7 548.0,399.3 547.5,397.3 547.0,399.6 546.5,399.3 546.0,400.8 545.5,401.7 545.0,401.3 544.5,403.4 544.0,405.4 543.5,405.4 543.0,404.3 542.5,407.0 542.0,408.5 541.5,406.3 541.0,407.2 540.5,408.3 540.0,409.6 539.5,410.7 539.0,411.0 538.5,411.1 538.0,412.8 537.5,414.4 537.0,413.6 536.5,414.6 536.0,414.7 535.5,415.9 535.0,417.1 534.5,417.4 534.0,417.3 533.5,420.0 533.0,420.3 532.5,419.9 532.0,420.8 531.5,421.5 531.0,420.5 530.5,422.8 530.0,422.6 529.5,423.9 529.0,423.0 528.5,424.2 528.0,423.4 527.5,426.2 527.0,424.9 526.5,425.6 526.0,427.8 525.5,426.8 525.0,427.5 524.5,426.9 524.0,427.1 523.5,428.5 523.0,428.8 522.5,427.3 522.0,428.0 521.5,427.8 521.0,428.6 520.5,428.6 520.0,427.9 519.5,428.6 519.0,429.7 518.5,430.1 518.0,431.3 517.5,430.2 517.0,429.5 516.5,431.3 516.0,431.2 515.5,429.4 515.0,431.7 514.5,430.0 514.0,432.5 513.5,431.4 513.0,431.4 512.5,432.3 512.0,430.6 511.5,431.9 511.0,432.6 510.5,433.4 510.0,433.3 509.5,433.3 509.0,434.2 508.5,432.9 508.0,434.6 507.5,432.2 507.0,433.0 506.5,434.8 506.0,434.7 505.5,433.8 505.0,434.9 504.5,433.2 504.0,435.4 503.5,436.1 503.0,434.1 502.5,436.0 502.0,434.2 501.5,434.7 501.0,434.3 500.5,436.2 500.0,437.1 499.5,433.9 499.0,433.9 498.5,434.7 498.0,434.2 497.5,431.0 497.0,431.3 496.5,431.6 496.0,430.1 495.5,428.9 495.0,429.6 494.5,428.4 494.0,428.5 493.5,425.8 493.0,426.5 492.5,424.8 492.0,423.3 491.5,423.6 491.0,422.7 490.5,421.6 490.0,420.8 489.5,419.7 489.0,419.0 488.5,420.3 488.0,419.7 487.5,421.1 487.0,419.5 486.5,420.5 486.0,422.7 485.5,422.7 485.0,425.0 484.5,424.1 484.0,426.3 483.5,427.0 483.0,427.1 482.5,427.7 482.0,429.5 481.5,430.4 481.0,429.3 480.5,430.8 480.0,431.2 479.5,434.3 479.0,435.1 478.5,435.7 478.0,436.9 477.5,436.2 477.0,436.7 476.5,438.8 476.0,437.9 475.5,437.9 475.0,437.9 474.5,436.9 474.0,437.3 473.5,437.6 473.0,436.9 472.5,437.2 472.0,435.6 471.5,437.0 471.0,435.7 470.5,437.0 470.0,434.7 469.5,434.1 469.0,434.7 468.5,434.2 468.0,434.7 467.5,434.7 467.0,433.6 466.5,434.5 466.0,432.7 465.5,433.2 465.0,432.9 464.5,431.4 464.0,433.4 463.5,431.1 463.0,432.0 462.5,430.6 462.0,430.7 461.5,431.1 461.0,431.8 460.5,429.6 460.0,430.6 459.5,429.4 459.0,430.9 458.5,430.7 458.0,432.0 457.5,433.9 457.0,432.1 456.5,434.9 456.0,433.6 455.5,435.2 455.0,434.6 454.5,434.5 454.0,436.9 453.5,437.5 453.0,436.8 452.5,436.4 452.0,439.0 451.5,437.8 451.0,437.8 450.5,440.1 450.0,439.0 449.5,439.0 449.0,439.5 448.5,437.1 448.0,437.2 447.5,436.9 447.0,436.1 446.5,435.7 446.0,435.6 445.5,436.5 445.0,433.9 444.5,433.2 444.0,433.7 443.5,433.2 443.0,433.1 442.5,431.3 442.0,432.2 441.5,430.9 441.0,432.4 440.5,429.6 440.0,429.6 439.5,428.5 439.0,428.2 438.5,429.4 438.0,428.0 437.5,428.6 437.0,426.4 436.5,425.7 436.0,426.7 435.5,425.2 435.0,424.2 434.5,425.8 434.0,424.0 433.5,424.9 433.0,423.3 432.5,421.9 432.0,422.9 431.5,422.7 431.0,420.4 430.5,421.6 430.0,421.3 429.5,418.1 429.0,418.2 428.5,418.9 428.0,417.8 427.5,419.5 427.0,418.4 426.5,419.4 426.0,416.9 425.5,418.0 425.0,418.3 424.5,418.0 424.0,418.8 423.5,419.9 423.0,417.5 422.5,418.1 422.0,417.9 421.5,418.5 421.0,419.6 420.5,418.5 420.0,420.0 419.5,417.8 419.0,418.0 418.5,420.3 418.0,419.8 417.5,420.5 417.0,419.6 416.5,418.7 416.0,418.5 415.5,418.6 415.0,420.6 414.5,418.9 414.0,418.9 413.5,420.6 413.0,422.0 412.5,424.2 412.0,423.7 411.5,424.9 411.0,424.7 410.5,426.5 410.0,427.2 409.5,427.2 409.0,429.5 408.5,430.2 408.0,431.8 407.5,431.1 407.0,431.1 406.5,434.1 406.0,433.8 405.5,436.2 405.0,435.9 404.5,435.7 404.0,438.4 403.5,439.2 403.0,437.1 402.5,437.6 402.0,437.4 401.5,435.8 401.0,435.6 400.5,436.3 400.0,436.0 399.5,435.1 399.0,434.5 398.5,435.0 398.0,436.2 397.5,436.2 397.0,435.5 396.5,434.8 396.0,435.2 395.5,432.6 395.0,433.5 394.5,434.2 394.0,434.4 393.5,432.2 393.0,431.5 392.5,433.2 392.0,432.1 391.5,431.9 391.0,434.3 390.5,433.6 390.0,433.5 389.5,434.0 389.0,435.9 388.5,436.1 388.0,435.6 387.5,435.9 387.0,435.9 386.5,436.2 386.0,435.8 385.5,437.5 385.0,438.4 384.5,439.6 384.0,438.2 383.5,439.4 383.0,439.1 382.5,439.6 382.0,440.9 381.5,440.8 381.0,441.2 380.5,443.1 380.0,442.1 379.5,442.4 379.0,442.4 378.5,440.8 378.0,440.5 377.5,438.6 377.0,438.1 376.5,440.3 376.0,438.5 375.5,437.4 375.0,439.3 374.5,438.5 374.0,438.1 373.5,436.1 373.0,437.5 372.5,434.6 372.0,435.6 371.5,435.2 371.0,433.5 370.5,433.6 370.0,432.8 369.5,432.9 369.0,432.4 368.5,432.8 368.0,432.0 367.5,430.0 367.0,429.5 366.5,429.4 366.0,428.2 365.5,427.3 365.0,427.9 364.5,426.5 364.0,425.8 363.5,424.9 363.0,425.0 362.5,425.1 362.0,426.2 361.5,426.4 361.0,428.2 360.5,430.7 360.0,430.6 359.5,432.2 359.0,434.0 358.5,433.0 358.0,437.0 357.5,436.0 357.0,439.7 356.5,440.4 356.0,442.0 355.5,442.4 355.0,444.5 354.5,444.5 354.0,444.5 353.5,443.9 353.0,444.9 352.5,445.0 352.0,444.3 351.5,444.6 351.0,443.6 350.5,443.6 350.0,443.1 349.5,444.9 349.0,445.6 348.5,443.5 348.0,443.2 347.5,445.1 347.0,444.2 346.5,444.1 346.0,443.2 345.5,444.4 345.0,445.7 344.5,443.3 344.0,443.6 343.5,445.5 343.0,444.1 342.5,446.3 342.0,444.2 341.5,444.8 341.0,445.1 340.5,444.2 340.0,446.1 339.5,444.8 339.0,444.0 338.5,446.0 338.0,445.6 337.5,446.3 337.0,445.7 336.5,446.0 336.0,446.4 335.5,447.2 335.0,447.8 334.5,447.9 334.0,447.9 333.5,448.9 333.0,447.6 332.5,449.2 332.0,449.2 331.5,449.6 331.0,450.5 330.5,449.9 330.0,448.8 329.5,448.9 329.0,448.7 328.5,448.7 328.0,448.0 327.5,447.1 327.0,446.8 326.5,446.5 326.0,447.3 325.5,446.7 325.0,445.8 324.5,446.2 324.0,447.2 323.5,445.7 323.0,444.0 322.5,445.2 322.0,443.8 321.5,443.4 321.0,445.1 320.5,443.2 320.0,443.1 319.5,441.9 319.0,442.7 318.5,443.2 318.0,441.7 317.5,440.6 317.0,441.4 316.5,439.8 316.0,440.5 315.5,438.4 315.0,440.5 314.5,440.2 314.0,439.6 313.5,438.6 313.0,439.2 312.5,438.3 312.0,438.5 311.5,435.7 311.0,434.9 310.5,436.0 310.0,435.4 309.5,434.0 309.0,435.0 308.5,434.1 308.0,434.5 307.5,433.5 307.0,432.9 306.5,434.9 306.0,434.9 305.5,433.5 305.0,432.0 304.5,434.3 304.0,434.1 303.5,434.3 303.0,433.9 302.5,434.4 302.0,432.6 301.5,432.3 301.0,431.9 300.5,432.1 300.0,433.3 299.5,434.3 299.0,433.2 298.5,434.1 298.0,435.5 297.5,434.8 297.0,435.2 296.5,437.3 296.0,437.5 295.5,436.0 295.0,438.2 294.5,438.2 294.0,437.4 293.5,440.1 293.0,439.8 292.5,438.9 292.0,440.2 291.5,439.9 291.0,440.8 290.5,442.0 290.0,442.5 289.5,443.0 289.0,444.4 288.5,448.0 288.0,450.1 287.5,449.4 287.0,452.9 286.5,453.9 286.0,455.7 285.5,457.4 285.0,457.3 284.5,457.6 284.0,458.8 283.5,456.8 283.0,456.3 282.5,458.5 282.0,456.5 281.5,455.8 281.0,455.8 280.5,455.7 280.0,457.7 279.5,454.6 279.0,455.9 278.5,455.6 278.0,455.3 277.5,455.0 277.0,456.5 276.5,456.3 276.0,454.0 275.5,456.2 275.0,455.1 274.5,456.2 274.0,455.2 273.5,456.9 273.0,456.8 272.5,456.6 272.0,455.0 271.5,456.2 271.0,456.1 270.5,456.5 270.0,455.0 269.5,456.9 269.0,456.3 268.5,455.8 268.0,456.5 267.5,458.0 267.0,456.2 266.5,456.5 266.0,458.4 265.5,457.3 265.0,458.7 264.5,456.4 264.0,458.2 263.5,459.7 263.0,460.0 262.5,458.9 262.0,460.7 261.5,458.8 261.0,461.2 260.5,460.6 260.0,461.9 259.5,460.3 259.0,461.1 258.5,462.6 258.0,463.7 257.5,463.7 257.0,463.8 256.5,463.0 256.0,463.6 255.5,464.6 255.0,465.3 254.5,463.1 254.0,462.5 253.5,462.2 253.0,463.1 252.5,462.7 252.0,460.3 251.5,459.5 251.0,460.2 250.5,458.5 250.0,460.0 249.5,457.9 249.0,456.6 248.5,457.0 248.0,457.2 247.5,454.1 247.0,453.9 246.5,453.9 246.0,454.7 245.5,451.7 245.0,453.9 244.5,451.7 244.0,452.9 243.5,450.7 243.0,453.1 242.5,451.1 242.0,450.4 241.5,452.7 241.0,452.8 240.5,452.6 240.0,450.6 239.5,451.5 239.0,453.1 238.5,454.6 238.0,456.5 237.5,457.1 237.0,459.9 236.5,462.0 236.0,460.9 235.5,465.0 235.0,463.8 234.5,466.7 234.0,465.5 233.5,466.5 233.0,466.0 232.5,467.0 232.0,469.0 231.5,467.8 231.0,468.0 230.5,469.2 230.0,469.3 229.5,471.6 229.0,469.9 228.5,471.7 228.0,472.6 227.5,471.2 227.0,471.5 226.5,471.1 226.0,472.4 225.5,471.8 225.0,472.6 224.5,471.0 224.0,471.2 223.5,471.6 223.0,472.0 222.5,472.1 222.0,469.5 221.5,470.3 221.0,469.3 220.5,471.3 220.0,471.1 219.5,471.2 219.0,468.9 218.5,470.9 218.0,468.1 217.5,468.5 217.0,469.9 216.5,467.7 216.0,469.5 215.5,467.8 215.0,468.0 214.5,467.6 214.0,468.4 213.5,467.2 213.0,467.5 212.5,467.6 212.0,466.8 211.5,468.6 211.0,468.0 210.5,467.0 210.0,468.0 209.5,468.5 209.0,467.6 208.5,465.4 208.0,464.8 207.5,467.3 207.0,465.9 206.5,465.8 206.0,465.7 205.5,463.1 205.0,465.2 204.5,465.0 204.0,464.7 203.5,462.7 203.0,462.1 202.5,461.1 202.0,461.2 201.5,463.0 201.0,462.4 200.5,459.5 200.0,459.8 199.5,459.2 199.0,459.5 198.5,459.9 198.0,458.4 197.5,457.7 197.0,456.3 196.5,457.9 196.0,454.9 195.5,455.2 195.0,455.3 194.5,453.1 194.0,455.0 193.5,454.5 193.0,452.4 192.5,453.0 192.0,451.4 191.5,449.3 191.0,448.8 190.5,448.4 190.0,447.9 189.5,446.7 189.0,446.8 188.5,448.3 188.0,447.2 187.5,446.4 187.0,446.3 186.5,444.2 186.0,444.6 185.5,442.4 185.0,442.7 184.5,442.1 184.0,442.8 183.5,442.8 183.0,439.6 182.5,439.2 182.0,440.3 181.5,439.4 181.0,439.8 180.5,438.1 180.0,439.6 179.5,439.2 179.0,437.7 178.5,438.6 178.0,440.5 177.5,437.7 177.0,438.1 176.5,439.2 176.0,439.0 175.5,439.5 175.0,439.0 174.5,440.0 174.0,438.5 173.5,438.6 173.0,438.7 172.5,440.0 172.0,439.7 171.5,439.9 171.0,441.0 170.5,441.1 170.0,440.2 169.5,439.9 169.0,442.3 168.5,443.2 168.0,441.8 167.5,443.6 167.0,445.4 166.5,446.0 166.0,445.3 165.5,445.9 165.0,447.4 164.5,448.4 164.0,448.5 163.5,447.8 163.0,450.2 162.5,450.0 162.0,448.7 161.5,450.8 161.0,450.5 160.5,449.4 160.0,450.5 159.5,452.1 159.0,451.2 158.5,451.4 158.0,451.4 157.5,449.4 157.0,450.2 156.5,450.9 156.0,450.5 155.5,450.4 155.0,447.9 154.5,450.2 154.0,449.8 153.5,449.0 153.0,448.3 152.5,447.7 152.0,446.7 151.5,447.4 151.0,448.8 150.5,448.9 150.0,447.8 149.5,448.0 149.0,447.0 148.5,448.4 148.0,447.0 147.5,446.6 147.0,447.4 146.5,448.0 146.0,448.3 145.5,447.1 145.0,446.2 144.5,447.7 144.0,447.2 143.5,447.9 143.0,445.1 142.5,445.8 142.0,446.5 141.5,447.1 141.0,447.5 140.5,446.9 140.0,445.7 139.5,445.7 139.0,446.3 138.5,446.3 138.0,445.4 137.5,446.6 137.0,444.6 136.5,446.2 136.0,445.4 135.5,445.8 135.0,445.1 134.5,444.1 134.0,445.4 133.5,446.4 133.0,444.3 132.5,445.9 132.0,444.6 131.5,443.9 131.0,446.1 130.5,445.5 130.0,443.5 129.5,442.8 129.0,444.2 128.5,444.1 128.0,441.3 127.5,442.5 127.0,440.4 126.5,440.4 126.0,439.4 125.5,437.0 125.0,438.2 124.5,437.1 124.0,435.1 123.5,433.8 123.0,430.2 122.5,429.1 122.0,429.2 121.5,426.2 121.0,426.2 120.5,422.6 120.0,421.4Z" fill="#0072B2" fill-opacity="0.2" stroke="#0072B2" stroke-opacity="0.26" stroke-width="1.3"/><path d="M923.8,117.2V130.4M923.8,176.2V194.6M926.2,116.7V131.8M926.2,176.7V195.9M928.6,118.0V133.1M928.6,177.3V198.3M931.0,118.0V134.5M931.0,177.9V199.0M933.4,118.0V135.8M933.4,178.4V200.6M935.8,117.2V137.1M935.8,179.0V199.6M938.2,119.1V138.5M938.2,179.5V200.2M940.6,119.7V139.8M940.6,180.1V201.4M943.0,117.6V141.2M943.0,180.7V201.8" stroke="#0072B2" stroke-opacity="0.25" stroke-width="1.2" fill="none"/><path d="M923.5,117 L944.5,119 L944.5,142 L923.5,130Z M923.5,176 L944.5,181 L944.5,204 L923.5,196Z" fill="#0072B2" fill-opacity="0.18"/><path d="M183.50 15.5V542.5M306.50 15.5V542.5M428.50 15.5V542.5M550.50 15.5V542.5M672.50 15.5V542.5M795.50 15.5V542.5M917.50 15.5V542.5M79.5 81.5H985.5M79.5 166.5H985.5M79.5 251.5H985.5M79.5 336.5H985.5M79.5 421.5H985.5M79.5 506.5H985.5" stroke="#808080" stroke-opacity="0.2" stroke-width="1.39" fill="none"/><path d="M923.2,162.5 L923.2,144.5 L933,147 L940,151.5 L944.5,149 L944.5,168 L940,172.5 L935,168.5 L930,166 L923.2,163.5Z" fill="#0072B2"/><path d="M121.5,368.8h0M121.5,370.8h0M122.8,372.5h0M121.9,374.4h0M131.9,368.8h0M122.5,381.9h0M127.1,380.3h0M130.7,381.7h0M133.2,386.8h0M130.0,389.7h0M125.8,390.4h0M124.1,384.8h0M122.5,381.9h0M125.6,382.5h0M129.9,384.8h0M126.8,387.5h0M133.8,393.8h0M134.2,395.2h0M133.1,397.0h0M133.0,400.1h0M134.1,402.1h0M134.4,401.9h0M142.5,404.4h0M143.2,407.1h0M145.3,406.4h0M144.8,410.2h0M144.7,412.0h0M143.5,411.4h0M143.8,412.5h0M153.8,405.0h0M154.6,407.5h0M154.2,407.7h0M155.0,409.4h0M190.6,351.2h0M190.1,354.3h0M190.9,354.1h0M189.5,356.0h0M188.9,359.5h0M188.7,360.8h0M188.9,361.8h0M189.0,362.5h0M188.5,371.2h0M190.2,371.9h0M191.2,373.3h0M191.9,375.6h0M187.5,379.4h0M185.5,379.4h0M183.4,381.8h0M183.4,381.1h0M184.3,382.6h0M183.9,385.9h0M184.1,385.8h0M184.0,387.7h0M181.3,390.7h0M181.8,391.4h0M182.5,393.8h0M176.2,395.0h0M180.1,392.9h0M182.1,397.4h0M180.4,401.4h0M175.8,402.1h0M175.4,397.0h0M176.2,395.0h0M178.8,398.8h0M178.5,401.1h0M196.2,384.4h0M198.3,387.9h0M198.9,392.3h0M200.0,397.5h0M200.0,400.2h0M194.6,403.5h0M191.8,400.0h0M191.8,396.7h0M192.4,390.6h0M195.7,386.1h0M196.2,384.4h0M199.3,388.7h0M202.5,408.1h0M201.5,410.1h0M201.3,410.6h0M200.6,412.5h0M204.4,421.2h0M185.0,378.8h0M187.1,380.5h0M189.5,380.5h0M188.8,380.0h0M133.8,401.9h0M142.5,404.4h0M143.2,406.6h0M144.7,407.5h0M146.3,408.2h0M145.3,409.7h0M144.0,412.4h0M143.8,412.5h0M153.8,405.0h0M153.8,407.3h0M155.1,408.8h0M155.6,410.0h0M135.6,421.2h0M143.1,422.5h0M143.8,423.8h0M141.3,425.8h0M143.8,427.2h0M143.4,430.6h0M145.4,431.2h0M146.4,432.8h0M146.3,434.3h0M146.4,437.6h0M148.4,439.4h0M148.4,440.1h0M149.6,440.4h0M151.1,440.5h0M153.0,438.6h0M154.3,436.0h0M153.4,434.8h0M154.7,432.6h0M156.1,432.0h0M157.4,429.7h0M158.1,429.5h0M156.9,425.4h0M156.0,425.5h0M157.3,423.7h0M159.8,421.3h0M160.9,418.8h0M159.6,418.0h0M159.7,417.0h0M160.5,413.5h0M161.3,413.5h0M163.8,412.5h0M161.2,412.5h0M166.1,412.4h0M171.5,413.3h0M176.2,415.1h0M174.6,419.6h0M174.4,423.4h0M172.4,429.3h0M167.7,431.2h0M164.1,430.7h0M161.2,426.9h0M160.3,421.9h0M161.2,418.2h0M161.2,412.5h0M164.2,419.1h0M173.4,420.3h0M162.2,422.3h0M173.4,422.5h0M167.1,426.5h0M171.7,428.2h0M167.0,431.2h0M146.2,432.5h0M148.0,433.5h0M149.9,433.6h0M150.9,433.9h0M153.3,433.8h0M153.0,431.4h0M153.8,431.2h0M135.0,438.8h0M136.0,439.0h0M139.4,440.7h0M140.2,440.2h0M141.2,441.2h0M136.9,443.8h0M135.9,445.9h0M137.4,446.6h0M137.2,448.2h0M136.5,450.4h0M138.5,452.4h0M138.4,454.9h0M138.6,456.9h0M140.0,457.5h0M141.2,472.5h0M175.0,400.0h0M175.9,400.5h0M178.1,400.2h0M180.0,401.2h0M192.5,400.0h0M192.8,401.7h0M192.7,403.6h0M193.1,404.4h0M201.9,400.0h0M202.5,408.1h0M202.0,409.1h0M200.6,412.0h0M200.0,412.5h0M204.4,421.2h0M203.1,430.0h0M204.8,431.4h0M206.4,433.0h0M206.2,434.0h0M205.7,437.3h0M205.0,437.5h0M207.5,456.2h0M202.5,465.6h0M205.4,465.4h0M205.8,467.0h0M207.5,467.4h0M209.0,466.5h0M206.5,469.6h0M205.8,469.7h0M209.0,470.6h0M210.8,470.1h0M211.8,471.6h0M212.7,470.1h0M216.1,471.2h0M218.3,470.0h0M218.5,472.8h0M218.8,472.5h0M227.5,466.2h0M228.2,468.5h0M228.1,468.8h0M229.4,471.2h0M230.6,412.5h0M229.9,413.3h0M231.3,416.3h0M231.6,417.3h0M230.9,419.3h0M231.9,421.2h0M234.4,407.5h0M230.0,438.1h0M136.2,450.0h0M138.1,452.8h0M139.4,452.2h0M138.1,456.0h0M139.6,457.3h0M140.0,457.5h0M141.2,473.1h0M140.8,474.9h0M141.2,475.6h0M207.5,456.2h0M202.5,466.2h0M204.4,466.1h0M206.5,465.1h0M208.7,467.1h0M209.2,466.2h0M209.8,467.9h0M207.7,469.0h0M207.7,470.4h0M209.7,471.7h0M210.0,470.0h0M216.2,471.2h0M217.6,473.8h0M218.3,474.4h0M218.9,476.4h0M219.0,478.8h0M216.4,480.7h0M217.0,482.0h0M219.0,481.7h0M221.0,483.5h0M220.5,485.1h0M220.6,486.1h0M220.0,487.0h0M217.7,489.3h0M215.6,490.4h0M215.8,490.7h0M213.4,490.2h0M212.8,488.0h0M210.9,488.0h0M209.4,487.5h0M215.6,493.1h0M227.5,466.2h0M228.2,467.8h0M230.0,470.1h0M229.8,472.2h0M230.1,472.3h0M228.9,475.9h0M227.7,477.0h0M228.1,478.1h0M226.9,490.0h0M220.0,495.0h0M220.3,495.6h0M222.5,496.6h0M224.0,499.2h0M226.3,498.9h0M226.3,500.6h0M225.3,502.3h0M223.6,502.4h0M221.7,505.4h0M221.2,505.0h0M212.5,498.1h0M210.2,500.6h0M209.2,500.9h0M208.0,502.4h0M210.6,502.4h0M213.1,504.2h0M213.0,505.8h0M211.9,506.8h0M212.0,509.3h0M211.0,511.4h0M211.7,511.5h0M211.7,513.4h0M211.0,517.0h0M211.1,519.2h0M211.2,518.5h0M244.4,378.8h0M246.8,377.4h0M249.3,379.2h0M246.4,380.8h0M246.5,381.6h0M247.7,382.8h0M247.4,386.2h0M247.5,385.6h0M258.1,371.9h0M258.9,373.7h0M259.8,376.4h0M258.5,376.5h0M257.9,379.1h0M257.5,379.4h0M256.9,393.1h0M257.8,391.1h0M260.0,391.2h0M243.8,395.6h0M245.4,395.8h0M246.8,398.1h0M247.5,398.1h0M291.2,380.0h0M289.4,394.4h0M289.4,395.7h0M289.9,398.0h0M290.5,400.1h0M291.2,403.0h0M290.0,402.5h0M349.4,406.2h0M230.0,438.8h0M228.1,466.2h0M229.1,467.5h0M228.1,470.9h0M230.0,472.1h0M228.6,473.1h0M229.0,475.7h0M228.4,477.7h0M228.1,477.5h0M227.5,488.8h0M362.5,345.0h0M363.4,346.1h0M362.5,349.9h0M364.4,351.5h0M363.5,351.2h0M362.5,360.6h0M363.5,368.5h0M362.8,369.3h0M363.8,372.0h0M365.1,373.1h0M364.9,374.9h0M363.5,378.2h0M364.9,379.9h0M365.3,381.2h0M365.7,382.6h0M367.7,385.6h0M366.8,385.6h0M368.1,387.5h0M361.2,389.4h0M361.6,391.5h0M361.1,392.4h0M359.8,394.4h0M360.0,395.0h0M358.8,405.0h0M351.2,406.2h0M382.5,363.1h0M381.2,379.4h0M381.7,380.9h0M381.0,384.3h0M380.6,383.1h0M367.5,398.8h0M367.7,400.7h0M369.3,403.4h0M369.1,403.8h0M368.9,406.9h0M370.0,406.2h0M376.2,403.1h0M379.0,398.9h0M382.1,395.2h0M386.2,392.4h0M391.4,391.5h0M393.6,390.2h0M397.4,387.0h0M403.9,387.5h0M407.2,383.9h0M410.0,381.0h0M412.2,375.1h0M413.5,376.6h0M413.8,382.5h0M413.5,386.3h0M410.0,389.3h0M404.8,392.4h0M402.2,396.4h0M396.1,397.5h0M391.9,399.7h0M387.1,401.0h0M381.8,402.6h0M379.7,406.1h0M377.5,404.9h0M376.2,403.1h0M409.9,382.7h0M402.5,389.0h0M409.7,387.6h0M396.6,392.1h0M398.1,393.5h0M384.1,397.6h0M390.3,397.5h0M395.4,396.6h0M400.0,396.0h0M384.3,399.0h0M388.2,399.6h0M415.6,340.6h0M415.0,342.3h0M415.1,345.4h0M416.2,346.3h0M416.5,348.7h0M416.0,349.5h0M413.9,351.2h0M412.6,353.0h0M413.7,356.2h0M413.4,357.2h0M412.4,357.5h0M411.2,360.1h0M411.9,361.4h0M412.1,364.0h0M414.1,366.4h0M415.1,365.8h0M417.3,368.2h0M418.0,368.1h0M418.6,369.3h0M419.5,373.2h0M419.4,374.4h0M420.5,375.0h0M421.1,377.9h0M419.3,378.5h0M419.4,381.6h0M421.0,382.8h0M422.7,384.4h0M422.2,385.6h0M423.8,387.4h0M424.1,390.3h0M423.5,392.2h0M423.0,394.9h0M424.9,396.6h0M424.4,396.8h0M425.3,399.0h0M426.0,400.8h0M425.2,404.1h0M424.2,405.3h0M424.0,406.0h0M425.0,407.5h0M361.2,388.8h0M360.1,391.8h0M361.6,392.9h0M359.7,394.8h0M360.0,395.0h0M359.4,405.0h0M351.2,406.2h0M345.0,420.0h0M350.5,418.9h0M355.1,419.0h0M357.9,417.7h0M360.3,422.3h0M358.1,427.8h0M352.8,429.0h0M348.3,429.6h0M344.6,427.2h0M343.9,422.3h0M345.0,420.0h0M345.9,422.3h0M352.7,421.4h0M357.5,420.8h0M348.3,425.4h0M351.5,425.0h0M368.8,410.0h0M372.5,406.3h0M376.6,402.2h0M381.1,400.6h0M380.8,406.4h0M378.9,409.7h0M376.7,413.7h0M373.3,419.0h0M372.7,419.9h0M367.8,417.1h0M367.2,411.1h0M368.8,410.0h0M374.7,405.0h0M380.0,406.4h0M372.4,407.6h0M379.9,409.4h0M368.0,413.9h0M370.1,411.9h0M375.7,411.8h0M372.4,416.7h0M372.7,420.1h0M407.5,386.2h0M403.1,389.1h0M389.1,392.6h0M397.5,391.7h0M398.9,392.6h0M385.9,395.7h0M388.3,395.1h0M393.0,396.5h0M399.3,395.7h0M394.0,399.2h0M367.5,386.2h0M364.8,386.0h0M365.3,388.6h0M362.5,388.8h0M479.4,359.4h0M480.2,360.6h0M479.3,363.3h0M479.0,364.9h0M480.0,366.4h0M479.1,369.5h0M480.9,368.8h0M481.0,371.9h0M480.2,373.1h0M481.2,374.4h0M504.4,376.9h0M478.8,387.5h0M478.4,390.1h0M477.3,391.8h0M476.2,392.3h0M478.0,394.0h0M477.5,395.0h0M465.0,400.0h0M467.5,399.6h0M468.4,399.9h0M470.7,400.1h0M471.8,400.6h0M471.2,402.3h0M470.0,405.4h0M469.4,406.6h0M467.0,406.9h0M467.7,408.9h0M469.9,409.0h0M470.6,409.9h0M472.8,410.8h0M476.3,411.1h0M476.5,409.8h0M477.5,410.0h0M488.8,400.0h0M489.8,405.7h0M493.6,408.7h0M496.7,406.2h0M496.0,399.8h0M497.7,394.3h0M500.3,390.2h0M503.6,387.3h0M505.9,387.9h0M507.6,391.3h0M505.6,396.5h0M500.3,395.8h0M498.3,400.1h0M492.6,400.5h0M488.8,400.0h0M503.6,387.3h0M499.8,393.4h0M503.3,392.9h0M491.3,401.4h0M496.3,401.0h0M492.9,406.5h0M511.2,403.8h0M515.5,407.9h0M516.7,412.4h0M518.4,414.9h0M523.5,415.9h0M527.1,414.6h0M529.4,408.7h0M531.9,405.4h0M534.3,400.6h0M534.3,406.5h0M532.1,408.6h0M529.9,404.9h0M525.9,405.8h0M521.9,408.2h0M516.0,405.1h0M512.6,403.4h0M511.2,403.8h0M514.1,405.1h0M518.5,409.5h0M523.3,408.4h0M518.1,411.8h0M525.4,413.2h0M524.0,415.4h0M533.8,387.5h0M536.3,386.3h0M537.0,386.4h0M539.7,386.5h0M540.3,384.9h0M542.1,383.8h0M542.5,380.9h0M543.8,383.0h0M545.7,383.1h0M546.9,383.9h0M548.0,385.8h0M549.2,387.5h0M550.5,388.2h0M552.0,390.2h0M552.5,389.3h0M553.1,389.8h0M554.6,386.2h0M554.6,385.3h0M556.9,382.7h0M556.9,381.5h0M556.1,380.4h0M556.5,376.8h0M557.4,376.4h0M557.7,373.6h0M558.1,373.2h0M557.3,370.6h0M555.0,370.0h0M558.1,365.0h0M559.3,363.7h0M558.1,360.1h0M558.5,358.5h0M558.7,357.2h0M560.0,356.2h0M567.5,363.8h0M569.5,362.0h0M570.2,359.9h0M570.6,360.7h0M570.5,357.8h0M572.8,356.6h0M573.0,353.8h0M574.5,353.6h0M576.0,352.8h0M575.9,351.6h0M577.5,350.0h0M565.0,351.2h0M603.1,285.0h0M604.8,285.5h0M606.3,286.0h0M605.9,286.4h0M605.8,287.8h0M607.1,289.4h0M610.0,289.0h0M611.5,289.4h0M611.5,291.1h0M609.8,289.8h0M608.0,291.9h0M605.9,292.5h0M605.3,293.0h0M606.1,292.5h0M607.7,293.9h0M609.7,294.1h0M608.8,296.6h0M607.3,298.5h0M607.8,299.3h0M606.5,301.1h0M605.3,302.3h0M605.0,304.7h0M605.3,306.1h0M604.4,309.1h0M604.6,309.2h0M607.2,309.6h0M607.8,306.5h0M609.4,307.2h0M610.3,305.2h0M612.3,304.3h0M612.3,306.0h0M614.4,308.5h0M614.4,309.4h0M615.1,310.2h0M616.6,313.3h0M616.7,314.7h0M618.0,315.4h0M617.2,317.1h0M616.4,317.8h0M613.4,319.1h0M612.8,320.0h0M613.9,321.9h0M614.3,321.9h0M617.8,323.7h0M617.8,324.7h0M621.1,324.7h0M622.5,324.9h0M624.1,327.1h0M623.1,329.6h0M625.0,331.6h0M626.8,332.3h0M627.9,333.4h0M628.1,332.6h0M630.5,329.4h0M631.6,328.2h0M631.7,327.4h0M631.6,324.2h0M633.4,322.0h0M633.9,321.9h0M634.0,318.7h0M635.0,318.3h0M635.2,315.7h0M635.8,314.4h0M633.5,312.3h0M631.6,312.0h0M630.3,314.5h0M629.8,313.5h0M626.6,315.2h0M626.2,316.2h0M624.4,338.8h0M625.6,348.1h0M562.5,328.8h0M564.7,330.4h0M565.9,330.5h0M565.6,332.6h0M564.2,336.1h0M564.0,336.3h0M563.3,338.7h0M561.3,340.3h0M561.5,342.8h0M560.9,344.6h0M562.6,345.1h0M562.6,347.7h0M564.7,347.7h0M565.2,350.9h0M567.7,350.9h0M568.1,353.8h0M570.0,353.8h0M574.4,327.5h0M579.2,325.7h0M583.1,323.4h0M588.2,323.3h0M593.3,324.9h0M596.5,329.1h0M595.3,334.1h0M593.4,336.6h0M587.9,337.4h0M583.2,339.2h0M581.0,343.3h0M578.1,347.5h0M574.9,343.6h0M573.6,338.5h0M574.3,332.8h0M573.3,327.7h0M574.4,327.5h0M581.9,324.2h0M574.6,328.5h0M580.2,327.2h0M585.8,328.0h0M590.1,328.8h0M593.1,327.5h0M582.7,332.7h0M590.3,330.1h0M592.5,331.8h0M575.1,334.3h0M585.5,335.8h0M591.7,335.1h0M576.2,338.5h0M578.3,342.0h0M580.1,342.0h0M602.5,323.8h0M602.7,324.5h0M601.8,327.1h0M604.0,329.8h0M603.9,330.2h0M602.7,332.2h0M601.7,334.0h0M602.6,336.4h0M600.9,338.9h0M601.3,341.4h0M600.2,342.2h0M601.0,343.8h0M599.5,346.6h0M599.4,347.6h0M599.8,349.7h0M600.0,350.0h0M642.5,306.2h0M644.0,306.5h0M646.1,306.1h0M648.5,306.9h0M648.7,309.8h0M649.2,310.7h0M649.0,312.8h0M649.2,315.0h0M648.8,317.5h0M649.4,317.5h0M656.9,308.1h0M701.2,161.2h0M702.8,161.0h0M704.4,163.1h0M694.4,166.2h0M702.5,169.4h0M694.4,176.9h0M701.2,179.4h0M695.0,186.2h0M696.4,186.4h0M697.0,184.7h0M700.0,185.9h0M699.9,187.7h0M698.6,189.6h0M697.8,190.0h0M696.0,191.6h0M695.0,191.6h0M693.6,193.2h0M695.6,195.6h0M696.6,197.5h0M697.2,197.9h0M699.5,197.4h0M700.0,198.1h0M696.2,209.4h0M696.2,211.2h0M692.5,217.5h0M688.8,226.2h0M691.7,226.4h0M691.9,224.6h0M692.5,225.0h0M682.5,231.2h0M685.1,232.2h0M686.6,230.7h0M688.8,231.0h0M690.3,232.4h0M691.2,232.5h0M718.8,187.5h0M718.8,201.2h0M720.0,202.5h0M721.2,213.8h0M725.6,216.0h0M723.8,221.6h0M727.2,225.5h0M728.8,227.2h0M731.9,230.2h0M730.2,232.3h0M723.0,231.9h0M720.8,229.6h0M719.9,223.9h0M720.3,218.2h0M720.8,214.7h0M721.2,213.8h0M723.0,217.3h0M722.9,225.4h0M724.0,229.9h0M730.9,229.5h0M733.8,203.8h0M733.2,206.2h0M733.9,207.0h0M732.8,210.2h0M735.3,210.6h0M737.2,211.0h0M739.0,212.8h0M740.5,213.4h0M739.7,214.5h0M738.9,215.4h0M736.3,218.3h0M734.1,219.1h0M736.1,220.2h0M736.6,220.9h0M738.4,224.0h0M737.5,224.3h0M737.0,226.4h0M736.9,228.1h0M739.6,227.8h0M741.8,229.7h0M743.6,231.4h0M743.7,231.9h0M743.8,233.8h0M748.8,213.8h0M751.7,214.7h0M751.9,215.5h0M753.9,214.8h0M751.4,215.6h0M750.8,217.5h0M748.8,218.8h0M748.9,220.3h0M751.0,220.4h0M751.5,222.0h0M751.8,222.8h0M751.0,226.0h0M752.0,226.3h0M753.9,227.3h0M754.4,229.9h0M755.0,230.2h0M754.4,231.2h0M718.8,225.0h0M722.7,226.0h0M728.4,225.7h0M733.1,224.9h0M736.9,226.8h0M736.2,230.0h0M731.1,230.7h0M728.5,236.5h0M724.3,235.1h0M722.3,229.3h0M720.3,225.1h0M718.8,225.0h0M723.3,228.9h0M726.4,227.9h0M729.7,228.8h0M734.5,228.6h0M726.5,231.6h0M727.5,242.5h0M730.4,243.4h0M732.3,241.3h0M732.6,243.4h0M733.2,245.4h0M733.3,248.0h0M733.1,248.1h0M739.4,232.5h0M738.7,234.4h0M741.1,235.1h0M740.0,236.2h0M743.8,230.0h0M741.2,248.1h0M742.2,248.5h0M743.8,247.5h0M747.5,254.4h0M748.1,261.2h0M744.4,273.1h0M746.4,273.6h0M745.1,277.2h0M746.7,278.4h0M746.2,279.4h0M745.6,294.4h0M750.0,235.0h0M752.5,226.2h0M753.5,228.6h0M754.9,228.5h0M755.0,231.2h0M755.0,248.8h0M755.0,251.0h0M758.2,252.7h0M757.6,253.3h0M757.9,254.3h0M759.4,256.8h0M758.4,259.2h0M757.2,261.4h0M757.5,261.2h0M761.2,245.0h0M765.4,241.7h0M771.2,240.2h0M772.2,238.4h0M772.5,244.7h0M770.3,248.0h0M767.0,250.3h0M762.7,248.3h0M761.2,245.0h0M766.4,245.4h0M769.7,246.5h0M767.5,249.5h0M771.2,231.2h0M772.0,229.5h0M775.3,230.2h0M775.0,228.8h0M780.0,226.2h0M782.4,227.2h0M783.7,228.1h0M783.8,230.0h0M797.5,233.8h0M801.9,237.7h0M805.5,237.2h0M809.6,242.0h0M810.5,247.1h0M805.1,245.9h0M799.6,246.7h0M800.2,242.1h0M797.5,237.8h0M797.5,233.8h0M800.1,236.8h0M802.0,244.9h0M808.1,243.8h0M811.2,253.8h0M811.4,255.6h0M810.4,257.3h0M810.2,254.9h0M811.6,253.4h0M812.5,253.2h0M813.8,251.2h0M815.0,250.0h0M706.5,84.3h0M715.5,90.3h0M705.3,97.8h0M706.0,101.5h0M713.5,100.0h0M717.3,104.5h0M715.0,106.0h0M706.8,106.8h0M715.5,111.3h0M708.3,113.5h0M705.3,118.3h0M717.3,121.3h0M709.0,123.3h0M709.8,126.3h0M716.5,128.5h0M708.3,130.0h0M712.0,132.3h0M702.3,133.0h0M713.5,133.8h0M717.3,136.0h0M703.5,139.3h0M712.0,142.8h0M704.3,153.3h0M701.3,160.0h0M745.0,274.0h0M745.9,278.5h0M745.3,294.0h0M745.3,323.4h0M776.2,213.8h0M777.6,211.7h0M778.0,211.5h0M778.8,210.0h0M793.1,214.4h0M772.5,222.5h0M777.4,220.7h0M782.2,219.6h0M786.6,219.8h0M791.1,221.4h0M797.2,223.0h0M798.8,225.7h0M796.9,226.4h0M790.0,228.2h0M785.4,229.4h0M780.4,230.5h0M775.9,227.2h0M773.7,224.9h0M772.5,222.5h0M787.9,219.1h0M783.9,222.3h0M788.9,222.5h0M790.9,223.5h0M794.9,221.7h0M786.4,226.4h0M773.8,227.5h0M772.0,230.4h0M772.9,230.4h0M771.2,232.5h0M773.8,238.8h0M768.4,241.1h0M765.2,243.9h0M762.4,245.5h0M761.9,250.2h0M766.4,254.2h0M770.9,252.6h0M772.0,248.5h0M773.1,242.5h0M773.8,238.8h0M768.4,245.7h0M762.3,250.2h0M765.7,249.4h0M769.1,249.4h0M771.4,248.9h0M760.0,260.0h0M798.8,233.8h0M803.6,236.4h0M808.1,237.5h0M809.8,241.2h0M808.2,246.5h0M802.4,246.2h0M800.2,246.7h0M798.9,241.5h0M799.8,237.1h0M798.8,233.8h0M799.2,241.9h0M802.4,240.2h0M807.6,242.4h0M803.1,245.0h0M810.0,256.2h0M811.1,255.3h0M813.1,253.8h0M812.9,252.7h0M814.5,249.9h0M816.9,248.6h0M817.4,248.4h0M819.9,246.6h0M821.8,246.6h0M821.4,244.2h0M821.7,243.4h0M821.9,240.0h0M822.9,239.6h0M824.2,236.7h0M824.7,236.1h0M823.8,234.1h0M824.2,231.5h0M822.6,229.7h0M822.5,228.8h0M821.2,245.0h0M825.0,251.2h0M828.4,254.3h0M833.2,252.7h0M835.6,253.2h0M835.4,257.5h0M835.9,262.4h0M830.2,265.7h0M828.3,267.4h0M824.8,262.6h0M825.6,256.7h0M825.5,253.3h0M825.0,251.2h0M825.4,251.7h0M831.9,255.4h0M828.0,260.0h0M827.5,273.1h0M827.2,288.5h0M827.2,301.2h0M840.0,232.5h0M839.7,235.3h0M837.8,236.1h0M837.6,237.6h0M837.6,239.6h0M840.2,241.4h0M839.7,243.2h0M841.9,241.1h0M844.2,241.4h0M845.2,241.7h0M845.5,239.7h0M845.3,237.4h0M844.9,234.4h0M846.6,233.4h0M847.3,230.8h0M846.4,228.9h0M847.4,226.2h0M847.7,226.1h0M848.5,223.9h0M851.6,224.1h0M851.5,220.9h0M851.9,219.0h0M854.0,218.7h0M853.2,216.3h0M853.3,216.7h0M852.6,220.3h0M850.2,221.6h0M850.0,222.5h0M855.0,238.8h0M857.4,238.4h0M859.7,238.1h0M860.6,238.1h0M862.3,238.7h0M864.3,237.4h0M866.6,235.1h0M866.2,234.7h0M866.2,235.7h0M865.8,236.1h0M865.2,238.8h0M865.5,240.1h0M862.9,241.0h0M863.3,242.4h0M862.3,244.4h0M858.8,242.8h0M857.0,243.3h0M856.2,242.5h0M871.2,215.0h0M869.5,217.2h0M868.8,219.3h0M869.2,220.5h0M867.6,221.0h0M867.7,225.1h0M867.9,226.6h0M867.5,226.2h0M778.0,200.0h0M777.8,200.7h0M779.0,202.0h0M778.0,209.0h0M776.5,211.3h0M776.5,212.2h0M777.0,214.0h0M870.0,191.0h0M902.5,166.2h0M884.2,178.3h0M889.2,180.4h0M882.5,181.7h0M880.8,185.0h0M879.2,186.7h0M870.0,191.2h0M893.3,187.5h0M895.8,190.8h0M879.2,193.8h0M875.8,197.5h0M872.9,200.8h0M874.2,205.0h0M877.5,203.3h0M880.0,199.2h0M881.7,196.7h0M888.3,193.3h0M886.7,196.7h0M887.5,200.0h0M885.8,204.2h0M890.8,196.7h0M894.2,198.3h0M897.5,196.7h0M900.0,200.0h0M901.7,202.5h0M898.3,206.7h0M892.5,200.0h0M890.0,202.5h0M909.0,132.0h0M912.0,135.0h0M913.0,139.0h0M906.0,141.0h0M905.0,144.0h0M908.0,146.0h0M904.0,148.0h0M907.0,152.0h0M903.0,156.0h0M902.0,160.0h0M903.0,163.0h0M902.0,166.0h0M914.3,97.3h0M921.3,101.0h0M921.7,104.3h0M914.3,105.7h0M914.7,109.0h0M915.7,111.7h0M919.0,111.0h0M921.7,111.7h0M908.3,121.3h0M912.3,119.7h0M915.0,119.0h0M917.0,118.3h0M919.7,120.3h0M923.7,118.3h0M464.0,399.7h0M469.3,401.3h0M473.2,402.2h0M477.0,405.5h0M478.3,409.2h0M475.4,412.0h0M470.5,411.3h0M467.0,409.2h0M464.3,404.1h0M464.9,400.0h0M464.0,399.7h0M468.6,407.6h0M478.0,388.0h0M477.4,389.8h0M476.1,392.4h0M475.9,394.5h0M475.7,393.8h0M488.5,395.0h0M492.1,398.0h0M494.8,399.8h0M497.4,405.5h0M494.7,408.9h0M491.8,407.6h0M488.8,403.7h0M488.1,397.9h0M488.5,395.0h0M491.5,397.5h0M493.8,403.0h0M491.9,405.2h0M495.8,405.4h0M496.7,392.7h0M498.5,387.9h0M502.6,385.8h0M505.6,385.1h0M509.7,388.9h0M510.8,394.7h0M513.1,398.0h0M511.3,402.3h0M507.2,403.6h0M502.7,401.0h0M498.6,399.7h0M496.4,393.3h0M496.7,392.7h0M501.1,387.1h0M500.7,392.1h0M508.2,390.2h0M497.7,393.4h0M506.8,395.6h0M500.1,397.4h0M506.8,397.4h0M511.0,397.4h0M510.6,402.7h0M510.7,399.7h0M515.1,399.7h0M521.3,402.1h0M525.0,400.8h0M531.1,398.8h0M534.8,400.2h0M534.4,405.1h0M535.2,408.4h0M530.8,412.5h0M527.6,416.4h0M523.0,417.8h0M516.9,415.7h0M515.7,412.4h0M511.7,408.5h0M512.0,403.4h0M510.7,399.7h0M526.3,401.0h0M529.4,399.8h0M514.0,403.8h0M525.0,404.4h0M529.8,403.0h0M532.1,402.1h0M525.4,407.0h0M522.6,412.4h0M517.0,413.9h0M526.8,414.4h0M531.7,385.7h0M536.3,384.3h0M541.0,382.3h0M544.7,381.1h0M550.3,382.0h0M552.4,378.9h0M555.8,377.9h0M557.2,382.6h0M554.4,386.2h0M553.5,392.0h0M550.3,392.0h0M543.9,389.5h0M539.5,389.9h0M534.3,390.2h0M531.7,385.7h0M551.8,380.8h0M536.7,383.5h0M540.1,382.8h0M547.7,383.1h0M551.0,383.9h0M536.7,388.1h0M541.8,387.7h0M550.0,387.9h0M551.1,391.2h0M556.2,369.3h0M557.3,370.1h0M558.4,373.0h0M558.5,374.0h0M562.7,330.7h0M561.6,334.4h0M562.7,339.8h0M565.4,339.5h0M561.7,342.3h0M561.2,352.8h0M563.1,358.2h0M569.4,361.4h0M579.9,324.7h0M577.8,326.6h0M582.8,327.9h0M587.9,328.6h0M578.9,330.4h0M587.3,331.3h0M590.2,331.1h0M594.7,332.0h0M598.1,330.4h0M573.8,334.1h0M580.2,336.2h0M582.2,334.9h0M590.0,334.3h0M592.8,336.0h0M598.6,336.0h0M575.9,339.7h0M578.8,338.6h0M593.3,339.9h0M576.2,342.9h0M578.3,342.3h0M592.9,341.6h0M575.6,346.2h0M578.6,346.0h0M595.2,346.2h0M598.0,345.3h0M247.0,386.0h0M256.2,393.3h0M259.9,391.4h0M244.3,395.1h0M243.3,397.8h0M247.5,398.3h0M289.2,394.2h0M290.1,402.0h0M236.9,400.1h0M236.9,403.3h0M235.1,407.0h0M234.2,410.7h0M230.5,413.4h0M230.5,419.9h0M233.3,417.1h0M237.8,415.3h0M241.5,417.1h0M240.6,409.8h0M242.4,408.9h0M237.8,407.0h0M247.9,407.0h0M249.8,410.7h0M248.9,414.4h0M250.7,417.1h0M249.8,419.9h0M251.6,422.6h0M254.4,419.9h0M255.3,416.2h0M252.5,415.3h0M256.2,407.9h0M257.1,409.8h0M254.4,429.5h0M265.4,407.9h0M264.4,412.5h0M261.7,414.4h0M261.7,418.9h0M262.6,422.6h0M261.7,425.4h0M262.6,432.7h0M265.4,416.2h0M268.1,415.3h0M268.1,419.9h0M275.5,416.2h0M278.2,412.5h0M280.0,414.4h0M279.1,418.0h0M276.4,419.9h0M274.5,425.4h0M275.5,429.0h0M281.9,424.4h0M283.7,429.0h0M285.6,430.9h0M286.5,434.5h0M287.4,438.2h0M289.2,410.7h0M294.7,410.7h0M296.6,414.4h0M298.4,418.0h0M291.1,422.6h0M292.9,418.0h0M297.5,426.3h0M297.5,430.9h0M229.6,438.2h0M290.0,417.7h0M292.4,413.5h0M298.1,416.6h0M302.6,416.7h0M305.5,417.4h0M311.2,416.3h0M315.5,414.7h0M317.4,416.2h0M321.9,414.6h0M326.4,420.2h0M329.1,420.9h0M334.4,421.4h0M339.0,421.1h0M344.7,422.2h0M349.6,423.7h0M355.3,422.4h0M359.9,420.5h0M359.3,422.6h0M355.7,424.8h0M351.6,426.3h0M348.0,425.5h0M341.0,423.0h0M336.9,424.7h0M333.8,425.0h0M327.7,427.5h0M324.3,427.6h0M318.4,423.8h0M315.4,424.2h0M309.8,422.5h0M305.6,424.6h0M301.5,426.9h0M298.6,425.1h0M294.0,423.1h0M289.2,422.9h0M290.0,417.7h0M321.5,414.9h0M295.0,417.8h0M321.3,418.7h0M294.3,420.0h0M297.3,420.0h0M301.2,421.9h0M306.5,420.2h0M308.2,419.7h0M313.9,420.5h0M316.7,420.4h0M319.2,420.7h0M354.0,422.4h0M357.2,421.6h0M328.0,424.7h0M332.4,423.6h0M347.2,424.7h0M351.2,406.2h0M291.7,394.2h0M291.2,402.0h0M602.5,285.0h0M607.5,285.0h0M606.2,290.0h0M611.2,290.0h0M605.0,292.5h0M608.8,296.2h0M603.8,302.5h0M607.5,303.8h0M612.5,305.0h0M615.0,307.5h0M602.5,308.8h0M640.0,277.5h0M642.5,280.0h0M637.5,282.5h0M641.2,285.0h0M643.8,287.5h0M636.2,290.0h0M637.5,293.8h0M635.0,296.2h0M633.8,300.0h0M645.0,292.5h0M647.5,293.8h0M648.8,298.8h0M655.0,285.0h0M657.5,287.5h0M653.8,292.5h0M657.5,292.5h0M660.0,295.0h0M656.2,300.0h0M662.5,291.2h0M663.8,297.5h0M666.2,295.0h0M667.5,290.0h0M668.8,285.0h0M670.0,280.0h0M670.0,275.0h0M672.5,270.0h0M675.0,272.5h0M677.5,271.2h0M678.8,266.2h0M680.0,258.8h0M680.0,251.2h0M682.5,248.8h0M683.8,246.2h0M681.2,242.5h0M685.0,238.8h0M686.2,250.0h0M642.5,306.2h0M647.5,307.5h0M656.2,307.5h0M650.0,297.0h0M660.0,289.0h0M652.0,296.0h0M646.0,289.0h0M661.0,300.0h0M644.0,297.0h0M639.0,298.0h0M664.0,302.0h0M651.0,301.0h0M419.0,381.0h0M422.0,385.0h0M422.0,390.0h0M423.0,396.0h0M430.0,397.0h0M432.0,399.0h0M425.0,401.0h0M424.0,405.0h0M425.0,408.0h0M428.0,411.0h0M431.0,405.0h0M432.0,407.0h0M428.0,403.0h0M441.0,404.0h0M444.0,409.0h0M445.0,413.0h0M447.0,416.0h0M450.0,418.0h0M446.0,421.0h0M442.0,418.0h0M439.0,415.0h0M435.0,416.0h0M433.0,415.0h0M436.0,420.0h0M438.0,423.0h0M435.0,430.0h0M437.0,432.0h0M453.0,392.0h0M455.0,394.0h0M457.0,397.0h0M454.0,398.0h0M450.0,400.0h0M448.0,402.0h0M452.0,405.0h0M453.0,409.0h0M459.0,386.0h0M461.0,384.0h0M464.0,388.0h0M462.0,391.0h0M458.0,403.0h0M464.0,400.0h0M466.0,403.0h0M464.0,406.0h0M468.0,408.0h0M471.0,411.0h0M474.0,402.0h0M471.0,405.0h0M474.0,394.0h0" fill="none" stroke="#000" stroke-width="5.4" stroke-linecap="round"/><path d="M120.00,393.75C120.83,395.42 123.33,400.83 125.00,403.75C126.67,406.67 128.33,409.29 130.00,411.25C131.67,413.21 132.92,414.96 135.00,415.50C137.08,416.04 140.00,414.79 142.50,414.50C145.00,414.21 147.71,413.58 150.00,413.75C152.29,413.92 154.38,414.12 156.25,415.50C158.12,416.88 159.79,421.88 161.25,422.00C162.71,422.12 163.54,418.67 165.00,416.25C166.46,413.83 167.92,408.46 170.00,407.50C172.08,406.54 175.21,410.08 177.50,410.50C179.79,410.92 181.67,409.25 183.75,410.00C185.83,410.75 187.71,412.50 190.00,415.00C192.29,417.50 195.00,421.04 197.50,425.00C200.00,428.96 202.92,436.46 205.00,438.75C207.08,441.04 208.12,439.71 210.00,438.75C211.88,437.79 214.17,433.00 216.25,433.00C218.33,433.00 220.00,437.38 222.50,438.75C225.00,440.12 228.96,442.29 231.25,441.25C233.54,440.21 234.38,436.12 236.25,432.50C238.12,428.88 240.21,420.12 242.50,419.50C244.79,418.88 247.92,426.38 250.00,428.75C252.08,431.12 252.92,433.96 255.00,433.75C257.08,433.54 260.00,428.96 262.50,427.50C265.00,426.04 267.50,425.62 270.00,425.00C272.50,424.38 275.42,423.54 277.50,423.75C279.58,423.96 280.83,427.50 282.50,426.25C284.17,425.00 285.83,419.17 287.50,416.25C289.17,413.33 290.42,410.42 292.50,408.75C294.58,407.08 297.71,407.08 300.00,406.25C302.29,405.42 303.75,403.33 306.25,403.75C308.75,404.17 312.29,407.08 315.00,408.75C317.71,410.42 320.00,411.46 322.50,413.75C325.00,416.04 327.29,422.92 330.00,422.50C332.71,422.08 336.25,412.50 338.75,411.25C341.25,410.00 342.71,414.17 345.00,415.00C347.29,415.83 350.42,416.67 352.50,416.25C354.58,415.83 355.62,415.96 357.50,412.50C359.38,409.04 361.88,397.38 363.75,395.50C365.62,393.62 367.29,399.46 368.75,401.25C370.21,403.04 371.04,404.88 372.50,406.25C373.96,407.62 375.42,409.71 377.50,409.50C379.58,409.29 382.50,406.29 385.00,405.00C387.50,403.71 390.42,402.38 392.50,401.75C394.58,401.12 395.42,400.71 397.50,401.25C399.58,401.79 402.08,407.29 405.00,405.00C407.92,402.71 412.08,390.00 415.00,387.50C417.92,385.00 420.42,390.29 422.50,390.00C424.58,389.71 425.00,385.33 427.50,385.75C430.00,386.17 434.17,389.50 437.50,392.50C440.83,395.50 445.00,401.25 447.50,403.75C450.00,406.25 450.42,408.33 452.50,407.50C454.58,406.67 457.50,399.79 460.00,398.75C462.50,397.71 464.79,400.00 467.50,401.25C470.21,402.50 473.75,406.88 476.25,406.25C478.75,405.62 480.62,400.42 482.50,397.50C484.38,394.58 485.83,388.75 487.50,388.75C489.17,388.75 490.42,394.88 492.50,397.50C494.58,400.12 497.50,404.08 500.00,404.50C502.50,404.92 505.00,401.17 507.50,400.00C510.00,398.83 512.50,398.54 515.00,397.50C517.50,396.46 520.42,393.96 522.50,393.75C524.58,393.54 525.42,399.17 527.50,396.25C529.58,393.33 532.92,379.79 535.00,376.25C537.08,372.71 538.33,376.04 540.00,375.00C541.67,373.96 542.92,372.00 545.00,370.00C547.08,368.00 549.58,364.25 552.50,363.00C555.42,361.75 559.58,362.25 562.50,362.50C565.42,362.75 567.50,365.58 570.00,364.50C572.50,363.42 575.00,358.83 577.50,356.00C580.00,353.17 582.50,349.33 585.00,347.50C587.50,345.67 590.42,346.25 592.50,345.00C594.58,343.75 595.83,342.50 597.50,340.00C599.17,337.50 600.62,334.38 602.50,330.00C604.38,325.62 606.88,316.04 608.75,313.75C610.62,311.46 612.08,315.29 613.75,316.25C615.42,317.21 616.88,319.50 618.75,319.50C620.62,319.50 622.71,318.25 625.00,316.25C627.29,314.25 630.00,310.94 632.50,307.50C635.00,304.06 637.92,298.18 640.00,295.60C642.08,293.02 643.33,293.14 645.00,292.00C646.67,290.86 648.33,291.25 650.00,288.75C651.67,286.25 653.54,280.88 655.00,277.00C656.46,273.12 657.29,268.00 658.75,265.50C660.21,263.00 661.46,265.00 663.75,262.00C666.04,259.00 669.79,251.58 672.50,247.50C675.21,243.42 678.33,239.58 680.00,237.50C681.67,235.42 680.42,236.46 682.50,235.00C684.58,233.54 690.21,230.42 692.50,228.75C694.79,227.08 695.00,227.29 696.25,225.00C697.50,222.71 698.54,218.54 700.00,215.00C701.46,211.46 703.33,206.46 705.00,203.75C706.67,201.04 708.12,200.83 710.00,198.75C711.88,196.67 714.58,191.25 716.25,191.25C717.92,191.25 718.75,197.50 720.00,198.75C721.25,200.00 722.29,199.58 723.75,198.75C725.21,197.92 727.29,193.75 728.75,193.75C730.21,193.75 731.04,195.21 732.50,198.75C733.96,202.29 735.83,210.21 737.50,215.00C739.17,219.79 740.42,223.54 742.50,227.50C744.58,231.46 747.50,235.42 750.00,238.75C752.50,242.08 755.00,244.58 757.50,247.50C760.00,250.42 762.71,254.38 765.00,256.25C767.29,258.12 769.58,259.79 771.25,258.75C772.92,257.71 773.54,253.75 775.00,250.00C776.46,246.25 778.12,238.96 780.00,236.25C781.88,233.54 784.58,234.38 786.25,233.75C787.92,233.12 788.33,233.46 790.00,232.50C791.67,231.54 793.75,228.21 796.25,228.00C798.75,227.79 802.38,230.25 805.00,231.25C807.62,232.25 809.92,232.96 812.00,234.00C814.08,235.04 815.33,239.00 817.50,237.50C819.67,236.00 822.50,227.08 825.00,225.00C827.50,222.92 829.58,225.21 832.50,225.00C835.42,224.79 840.00,225.00 842.50,223.75C845.00,222.50 845.62,221.67 847.50,217.50C849.38,213.33 851.67,200.62 853.75,198.75C855.83,196.88 857.92,204.58 860.00,206.25C862.08,207.92 863.96,209.17 866.25,208.75C868.54,208.33 871.04,206.04 873.75,203.75C876.46,201.46 879.79,197.29 882.50,195.00C885.21,192.71 887.92,191.00 890.00,190.00C892.08,189.00 893.50,190.67 895.00,189.00C896.50,187.33 897.67,183.33 899.00,180.00C900.33,176.67 901.17,171.17 903.00,169.00C904.83,166.83 907.50,168.33 910.00,167.00C912.50,165.67 915.75,161.83 918.00,161.00C920.25,160.17 922.58,161.83 923.50,162.00" fill="none" stroke="#0072B2" stroke-width="2.4" stroke-linejoin="round" stroke-linecap="butt"/><g fill="#ff0000" fill-opacity="0.62" stroke="#ff0000" stroke-opacity="0.62" stroke-width="1.39"><circle cx="932.5" cy="39.1" r="2.1"/><circle cx="933.1" cy="44.6" r="2.1"/><circle cx="933.1" cy="46.3" r="2.1"/><circle cx="933.4" cy="53.3" r="2.1"/><circle cx="932.5" cy="64.4" r="2.1"/><circle cx="931.3" cy="91.3" r="2.1"/><circle cx="931.3" cy="97.3" r="2.1"/><circle cx="928.3" cy="104.3" r="2.1"/><circle cx="931" cy="107" r="2.1"/><circle cx="926.3" cy="108.3" r="2.1"/><circle cx="930.3" cy="111.7" r="2.1"/><circle cx="925" cy="113" r="2.1"/><circle cx="923.7" cy="116.3" r="2.1"/><circle cx="929" cy="106" r="2.1"/><circle cx="927.5" cy="110" r="2.1"/><circle cx="925.5" cy="114.5" r="2.1"/><circle cx="927" cy="105" r="2.1"/><circle cx="929.5" cy="104" r="2.1"/><circle cx="930" cy="106.5" r="2.1"/><circle cx="928" cy="108" r="2.1"/><circle cx="926" cy="110.5" r="2.1"/><circle cx="928" cy="112" r="2.1"/><circle cx="924.5" cy="117.5" r="2.1"/><circle cx="926.5" cy="106.5" r="2.1"/></g><rect x="79.5" y="15.5" width="906.0" height="527.0" fill="none" stroke="#000" stroke-width="1.11"/><path d="M183.50 542.5v4.86M306.50 542.5v4.86M428.50 542.5v4.86M550.50 542.5v4.86M672.50 542.5v4.86M795.50 542.5v4.86M917.50 542.5v4.86M79.5 81.5h-4.86M79.5 166.5h-4.86M79.5 251.5h-4.86M79.5 336.5h-4.86M79.5 421.5h-4.86M79.5 506.5h-4.86" stroke="#000" stroke-width="1.11" fill="none"/><text x="183.50" y="562.2" font-size="14.1" text-anchor="middle" textLength="35" lengthAdjust="spacingAndGlyphs">2020</text><text x="306.50" y="562.2" font-size="14.1" text-anchor="middle" textLength="35" lengthAdjust="spacingAndGlyphs">2021</text><text x="428.50" y="562.2" font-size="14.1" text-anchor="middle" textLength="35" lengthAdjust="spacingAndGlyphs">2022</text><text x="550.50" y="562.2" font-size="14.1" text-anchor="middle" textLength="35" lengthAdjust="spacingAndGlyphs">2023</text><text x="672.50" y="562.2" font-size="14.1" text-anchor="middle" textLength="35" lengthAdjust="spacingAndGlyphs">2024</text><text x="795.50" y="562.2" font-size="14.1" text-anchor="middle" textLength="35" lengthAdjust="spacingAndGlyphs">2025</text><text x="917.50" y="562.2" font-size="14.1" text-anchor="middle" textLength="35" lengthAdjust="spacingAndGlyphs">2026</text><text x="35.20" y="86.70" font-size="14.1" textLength="34.2" lengthAdjust="spacingAndGlyphs">1400</text><text x="35.20" y="171.70" font-size="14.1" textLength="34.2" lengthAdjust="spacingAndGlyphs">1200</text><text x="35.20" y="256.70" font-size="14.1" textLength="34.2" lengthAdjust="spacingAndGlyphs">1000</text><text x="43.40" y="341.70" font-size="14.1" textLength="26.0" lengthAdjust="spacingAndGlyphs">800</text><text x="43.40" y="426.70" font-size="14.1" textLength="26.0" lengthAdjust="spacingAndGlyphs">600</text><text x="43.40" y="511.70" font-size="14.1" textLength="26.0" lengthAdjust="spacingAndGlyphs">400</text><text x="532.5" y="581.7" font-size="13.9" text-anchor="middle">ds</text><text transform="translate(25.3,278.6) rotate(-90)" font-size="15" text-anchor="middle">y</text></svg></body></html>
